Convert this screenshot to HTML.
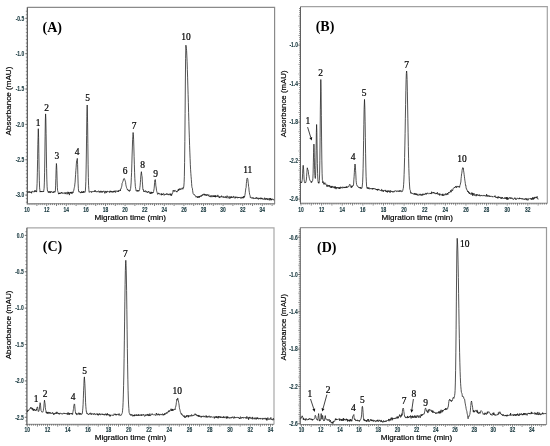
<!DOCTYPE html>
<html><head><meta charset="utf-8"><style>
html,body{margin:0;padding:0;background:#fff;}
svg{display:block;will-change:transform;}
.tk{font-family:"Liberation Sans",sans-serif;font-size:6.4px;font-weight:bold;fill:#1a3a40;stroke:#1a3a40;stroke-width:0.12px;}
.tt{font-family:"Liberation Sans",sans-serif;font-size:8.1px;fill:#000;stroke:#000;stroke-width:0.18px;}
.pl{font-family:"Liberation Serif",serif;font-size:14px;font-weight:bold;fill:#000;}
.pk{font-family:"Liberation Serif",serif;font-size:10.2px;fill:#000;stroke:#000;stroke-width:0.22px;}
</style></head>
<body><svg width="550" height="446" viewBox="0 0 550 446">
<rect width="550" height="446" fill="#fff"/>

<path d="M27.35 7.3 H274.6 V204.0" fill="none" stroke="#8a8a8a" stroke-width="1.2"/>
<path d="M27.35 7.3 V204.6" fill="none" stroke="#606060" stroke-width="1.3"/>
<path d="M27.35 203.7 H274.6" fill="none" stroke="#8a8a8a" stroke-width="1"/>
<path d="M25.85 11.23H27.35 M25.85 14.76H27.35 M25.85 18.30H27.35 M25.85 21.84H27.35 M25.85 25.37H27.35 M25.85 28.91H27.35 M25.85 32.44H27.35 M25.85 35.98H27.35 M25.85 39.52H27.35 M25.85 43.05H27.35 M25.85 46.59H27.35 M25.85 50.12H27.35 M25.85 53.66H27.35 M25.85 57.20H27.35 M25.85 60.73H27.35 M25.85 64.27H27.35 M25.85 67.80H27.35 M25.85 71.34H27.35 M25.85 74.88H27.35 M25.85 78.41H27.35 M25.85 81.95H27.35 M25.85 85.48H27.35 M25.85 89.02H27.35 M25.85 92.56H27.35 M25.85 96.09H27.35 M25.85 99.63H27.35 M25.85 103.16H27.35 M25.85 106.70H27.35 M25.85 110.24H27.35 M25.85 113.77H27.35 M25.85 117.31H27.35 M25.85 120.84H27.35 M25.85 124.38H27.35 M25.85 127.92H27.35 M25.85 131.45H27.35 M25.85 134.99H27.35 M25.85 138.52H27.35 M25.85 142.06H27.35 M25.85 145.60H27.35 M25.85 149.13H27.35 M25.85 152.67H27.35 M25.85 156.20H27.35 M25.85 159.74H27.35 M25.85 163.28H27.35 M25.85 166.81H27.35 M25.85 170.35H27.35 M25.85 173.88H27.35 M25.85 177.42H27.35 M25.85 180.96H27.35 M25.85 184.49H27.35 M25.85 188.03H27.35 M25.85 191.56H27.35 M25.85 195.10H27.35 M25.85 198.64H27.35 M25.85 202.17H27.35 M25.15 18.30H27.35 M25.15 53.66H27.35 M25.15 89.02H27.35 M25.15 124.38H27.35 M25.15 159.74H27.35 M25.15 195.10H27.35" stroke="#606060" stroke-width="0.7" fill="none"/>
<path d="M29.06 203.5V205.10 M31.02 203.5V205.10 M32.98 203.5V205.10 M34.94 203.5V205.10 M36.90 203.5V206.00 M38.86 203.5V205.10 M40.82 203.5V205.10 M42.78 203.5V205.10 M44.74 203.5V205.10 M46.70 203.5V206.00 M48.66 203.5V205.10 M50.62 203.5V205.10 M52.58 203.5V205.10 M54.54 203.5V205.10 M56.50 203.5V206.00 M58.46 203.5V205.10 M60.42 203.5V205.10 M62.38 203.5V205.10 M64.34 203.5V205.10 M66.30 203.5V206.00 M68.26 203.5V205.10 M70.22 203.5V205.10 M72.18 203.5V205.10 M74.14 203.5V205.10 M76.10 203.5V206.00 M78.06 203.5V205.10 M80.02 203.5V205.10 M81.98 203.5V205.10 M83.94 203.5V205.10 M85.90 203.5V206.00 M87.86 203.5V205.10 M89.82 203.5V205.10 M91.78 203.5V205.10 M93.74 203.5V205.10 M95.70 203.5V206.00 M97.66 203.5V205.10 M99.62 203.5V205.10 M101.58 203.5V205.10 M103.54 203.5V205.10 M105.50 203.5V206.00 M107.46 203.5V205.10 M109.42 203.5V205.10 M111.38 203.5V205.10 M113.34 203.5V205.10 M115.30 203.5V206.00 M117.26 203.5V205.10 M119.22 203.5V205.10 M121.18 203.5V205.10 M123.14 203.5V205.10 M125.10 203.5V206.00 M127.06 203.5V205.10 M129.02 203.5V205.10 M130.98 203.5V205.10 M132.94 203.5V205.10 M134.90 203.5V206.00 M136.86 203.5V205.10 M138.82 203.5V205.10 M140.78 203.5V205.10 M142.74 203.5V205.10 M144.70 203.5V206.00 M146.66 203.5V205.10 M148.62 203.5V205.10 M150.58 203.5V205.10 M152.54 203.5V205.10 M154.50 203.5V206.00 M156.46 203.5V205.10 M158.42 203.5V205.10 M160.38 203.5V205.10 M162.34 203.5V205.10 M164.30 203.5V206.00 M166.26 203.5V205.10 M168.22 203.5V205.10 M170.18 203.5V205.10 M172.14 203.5V205.10 M174.10 203.5V206.00 M176.06 203.5V205.10 M178.02 203.5V205.10 M179.98 203.5V205.10 M181.94 203.5V205.10 M183.90 203.5V206.00 M185.86 203.5V205.10 M187.82 203.5V205.10 M189.78 203.5V205.10 M191.74 203.5V205.10 M193.70 203.5V206.00 M195.66 203.5V205.10 M197.62 203.5V205.10 M199.58 203.5V205.10 M201.54 203.5V205.10 M203.50 203.5V206.00 M205.46 203.5V205.10 M207.42 203.5V205.10 M209.38 203.5V205.10 M211.34 203.5V205.10 M213.30 203.5V206.00 M215.26 203.5V205.10 M217.22 203.5V205.10 M219.18 203.5V205.10 M221.14 203.5V205.10 M223.10 203.5V206.00 M225.06 203.5V205.10 M227.02 203.5V205.10 M228.98 203.5V205.10 M230.94 203.5V205.10 M232.90 203.5V206.00 M234.86 203.5V205.10 M236.82 203.5V205.10 M238.78 203.5V205.10 M240.74 203.5V205.10 M242.70 203.5V206.00 M244.66 203.5V205.10 M246.62 203.5V205.10 M248.58 203.5V205.10 M250.54 203.5V205.10 M252.50 203.5V206.00 M254.46 203.5V205.10 M256.42 203.5V205.10 M258.38 203.5V205.10 M260.34 203.5V205.10 M262.30 203.5V206.00 M264.26 203.5V205.10 M266.22 203.5V205.10 M268.18 203.5V205.10 M270.14 203.5V205.10 M272.10 203.5V206.00 M274.06 203.5V205.10" stroke="#5a5a5a" stroke-width="0.75" fill="none"/>
<text class="tk" text-anchor="end" transform="translate(24.15 20.60) scale(0.77 1)">-0.5</text>
<text class="tk" text-anchor="end" transform="translate(24.15 55.96) scale(0.77 1)">-1.0</text>
<text class="tk" text-anchor="end" transform="translate(24.15 91.32) scale(0.77 1)">-1.5</text>
<text class="tk" text-anchor="end" transform="translate(24.15 126.68) scale(0.77 1)">-2.0</text>
<text class="tk" text-anchor="end" transform="translate(24.15 162.04) scale(0.77 1)">-2.5</text>
<text class="tk" text-anchor="end" transform="translate(24.15 197.40) scale(0.77 1)">-3.0</text>
<text class="tk" text-anchor="middle" transform="translate(27.10 212.00) scale(0.77 1)">10</text>
<text class="tk" text-anchor="middle" transform="translate(46.70 212.00) scale(0.77 1)">12</text>
<text class="tk" text-anchor="middle" transform="translate(66.30 212.00) scale(0.77 1)">14</text>
<text class="tk" text-anchor="middle" transform="translate(85.90 212.00) scale(0.77 1)">16</text>
<text class="tk" text-anchor="middle" transform="translate(105.50 212.00) scale(0.77 1)">18</text>
<text class="tk" text-anchor="middle" transform="translate(125.10 212.00) scale(0.77 1)">20</text>
<text class="tk" text-anchor="middle" transform="translate(144.70 212.00) scale(0.77 1)">22</text>
<text class="tk" text-anchor="middle" transform="translate(164.30 212.00) scale(0.77 1)">24</text>
<text class="tk" text-anchor="middle" transform="translate(183.90 212.00) scale(0.77 1)">26</text>
<text class="tk" text-anchor="middle" transform="translate(203.50 212.00) scale(0.77 1)">28</text>
<text class="tk" text-anchor="middle" transform="translate(223.10 212.00) scale(0.77 1)">30</text>
<text class="tk" text-anchor="middle" transform="translate(242.70 212.00) scale(0.77 1)">32</text>
<text class="tk" text-anchor="middle" transform="translate(262.30 212.00) scale(0.77 1)">34</text>
<text x="130.2" y="220.3" class="tt" text-anchor="middle">Migration time (min)</text>
<text x="0" y="0" class="tt" text-anchor="middle" transform="translate(11.1 101.0) rotate(-90)">Absorbance (mAU)</text>
<text x="42.6" y="32.4" class="pl">(A)</text>
<path d="M27.60 191.63 L27.85 192.48 L28.10 192.79 L28.35 191.94 L28.60 191.46 L28.85 192.13 L29.10 192.40 L29.35 192.72 L29.60 191.42 L29.85 191.35 L30.10 192.42 L30.35 192.27 L30.60 192.82 L30.85 192.49 L31.10 191.87 L31.35 191.75 L31.60 193.29 L31.85 191.69 L32.10 191.39 L32.35 191.16 L32.60 191.82 L32.85 191.82 L33.10 191.52 L33.35 191.65 L33.60 191.81 L33.85 192.01 L34.10 192.21 L34.35 191.69 L34.60 190.57 L34.85 191.91 L35.10 190.72 L35.35 191.38 L35.60 190.63 L35.85 191.40 L36.10 190.90 L36.35 191.20 L36.60 192.08 L36.85 187.99 L37.10 183.38 L37.35 172.77 L37.60 159.49 L37.85 144.44 L38.30 128.70 L38.60 137.32 L38.85 153.57 L39.10 169.69 L39.35 180.71 L39.60 187.87 L39.85 189.77 L40.10 192.13 L40.35 191.06 L40.60 191.77 L40.85 191.40 L41.10 191.92 L41.35 191.07 L41.60 191.95 L41.85 191.33 L42.10 192.09 L42.35 191.74 L42.60 191.48 L42.85 190.97 L43.10 191.81 L43.35 191.59 L43.60 192.00 L43.85 190.09 L44.10 188.30 L44.35 182.84 L44.60 172.24 L44.85 156.04 L45.10 136.73 L45.35 120.01 L45.60 113.90 L45.85 118.89 L46.10 133.58 L46.35 151.97 L46.60 168.60 L46.85 179.87 L47.10 186.72 L47.35 189.93 L47.60 191.28 L47.85 191.50 L48.10 191.98 L48.35 192.58 L48.60 191.45 L48.85 191.26 L49.10 192.73 L49.35 191.80 L49.60 192.21 L49.85 192.17 L50.10 191.08 L50.35 193.06 L50.60 192.71 L50.85 191.84 L51.10 192.17 L51.35 191.84 L51.60 191.29 L51.85 191.73 L52.10 192.02 L52.35 192.47 L52.60 192.28 L52.85 191.96 L53.10 192.71 L53.35 191.58 L53.60 192.48 L53.85 192.69 L54.10 191.95 L54.35 191.17 L54.60 191.68 L54.85 192.28 L55.10 192.11 L55.35 191.25 L55.60 185.82 L55.85 178.66 L56.10 169.58 L56.40 163.50 L56.60 165.30 L56.85 170.50 L57.10 180.12 L57.35 187.36 L57.60 190.51 L57.85 191.28 L58.10 192.24 L58.35 192.82 L58.60 194.15 L58.85 193.17 L59.10 192.93 L59.35 193.76 L59.60 192.90 L59.85 194.00 L60.10 192.63 L60.35 192.75 L60.60 193.41 L60.85 193.80 L61.10 193.38 L61.35 193.19 L61.60 192.03 L61.85 192.64 L62.10 192.71 L62.35 192.75 L62.60 193.37 L62.85 192.87 L63.10 193.50 L63.35 193.11 L63.60 192.89 L63.85 193.14 L64.10 193.32 L64.35 193.56 L64.60 192.83 L64.85 192.97 L65.10 192.35 L65.35 193.99 L65.60 193.91 L65.85 193.02 L66.10 192.86 L66.35 192.45 L66.60 193.23 L66.85 193.25 L67.10 194.34 L67.35 193.28 L67.60 192.72 L67.85 191.81 L68.10 193.94 L68.35 193.27 L68.60 192.29 L68.85 193.28 L69.10 192.30 L69.35 195.10 L69.60 193.81 L69.85 193.51 L70.10 193.09 L70.35 191.99 L70.60 193.07 L70.85 192.26 L71.10 193.41 L71.35 191.88 L71.60 192.52 L71.85 193.64 L72.10 193.81 L72.35 192.17 L72.60 191.84 L72.85 192.98 L73.10 192.68 L73.35 191.26 L73.60 190.83 L73.85 190.01 L74.10 188.63 L74.35 187.46 L74.60 186.67 L74.85 184.10 L75.10 182.18 L75.35 177.96 L75.60 174.61 L75.85 170.69 L76.10 167.75 L76.35 163.93 L76.60 160.98 L76.85 160.31 L77.10 159.51 L77.30 158.40 L77.60 164.46 L77.85 174.59 L78.10 183.13 L78.35 188.31 L78.60 191.34 L78.85 191.95 L79.10 191.76 L79.35 191.47 L79.60 191.58 L79.85 192.37 L80.10 192.45 L80.35 192.09 L80.60 193.12 L80.85 192.42 L81.10 192.63 L81.35 192.96 L81.60 191.82 L81.85 191.18 L82.10 192.66 L82.35 191.85 L82.60 192.94 L82.85 192.39 L83.10 192.74 L83.35 192.59 L83.60 191.02 L83.85 192.54 L84.10 191.76 L84.35 191.69 L84.60 191.83 L84.85 192.38 L85.10 192.09 L85.35 191.10 L85.60 186.93 L85.85 181.65 L86.10 169.94 L86.35 154.97 L86.60 135.53 L86.85 116.33 L87.20 105.00 L87.60 122.44 L87.85 143.69 L88.10 164.22 L88.35 177.58 L88.60 185.70 L88.85 189.45 L89.10 192.23 L89.35 192.29 L89.60 191.72 L89.85 191.92 L90.10 191.85 L90.35 191.88 L90.60 191.64 L90.85 191.56 L91.10 191.03 L91.35 191.36 L91.60 192.60 L91.85 191.98 L92.10 191.70 L92.35 191.54 L92.60 191.67 L92.85 191.82 L93.10 191.25 L93.35 191.70 L93.60 191.71 L93.85 191.15 L94.10 191.12 L94.35 190.99 L94.60 190.94 L94.85 192.00 L95.10 190.21 L95.35 191.37 L95.60 191.19 L95.85 191.19 L96.10 191.60 L96.35 192.17 L96.60 191.61 L96.85 191.50 L97.10 191.25 L97.35 191.52 L97.60 192.11 L97.85 191.40 L98.10 190.99 L98.35 190.94 L98.60 191.04 L98.85 190.89 L99.10 192.27 L99.35 191.87 L99.60 191.55 L99.85 192.50 L100.10 191.34 L100.35 192.13 L100.60 192.16 L100.85 190.88 L101.10 190.89 L101.35 191.24 L101.60 192.26 L101.85 192.49 L102.10 191.11 L102.35 192.37 L102.60 191.59 L102.85 191.60 L103.10 191.52 L103.35 191.66 L103.60 190.84 L103.85 191.30 L104.10 191.18 L104.35 192.14 L104.60 193.03 L104.85 193.40 L105.10 191.71 L105.35 190.94 L105.60 191.65 L105.85 191.35 L106.10 192.95 L106.35 192.16 L106.60 191.44 L106.85 192.34 L107.10 192.11 L107.35 190.91 L107.60 191.50 L107.85 191.65 L108.10 191.79 L108.35 191.84 L108.60 191.57 L108.85 191.85 L109.10 191.41 L109.35 191.23 L109.60 192.55 L109.85 191.90 L110.10 191.94 L110.35 190.81 L110.60 191.58 L110.85 192.12 L111.10 190.95 L111.35 192.25 L111.60 191.42 L111.85 191.85 L112.10 191.54 L112.35 191.73 L112.60 192.26 L112.85 191.36 L113.10 192.44 L113.35 191.14 L113.60 191.04 L113.85 191.94 L114.10 190.95 L114.35 191.32 L114.60 192.01 L114.85 192.17 L115.10 190.52 L115.35 191.76 L115.60 192.50 L115.85 192.11 L116.10 191.31 L116.35 191.10 L116.60 191.25 L116.85 190.76 L117.10 191.23 L117.35 191.26 L117.60 191.26 L117.85 191.97 L118.10 191.16 L118.35 190.44 L118.60 191.77 L118.85 190.52 L119.10 190.77 L119.35 190.81 L119.60 190.51 L119.85 189.92 L120.10 190.03 L120.35 190.99 L120.60 188.98 L120.85 188.66 L121.10 188.67 L121.35 187.67 L121.60 186.80 L121.85 185.88 L122.10 183.29 L122.35 182.83 L122.60 182.32 L122.85 181.52 L123.10 181.05 L123.35 179.84 L123.60 178.87 L123.85 178.66 L124.10 178.50 L124.35 178.52 L124.60 179.21 L124.85 180.13 L125.10 180.48 L125.35 181.28 L125.60 182.40 L125.85 184.64 L126.10 185.88 L126.35 186.78 L126.60 187.66 L126.85 188.46 L127.10 188.69 L127.35 189.61 L127.60 189.10 L127.85 189.89 L128.10 189.85 L128.35 190.85 L128.60 190.26 L128.85 190.62 L129.10 190.95 L129.35 191.49 L129.60 190.27 L129.85 190.04 L130.10 190.67 L130.35 188.95 L130.60 188.58 L130.85 185.95 L131.10 182.95 L131.35 177.28 L131.60 172.35 L131.85 163.90 L132.10 154.99 L132.35 147.96 L132.60 139.75 L132.85 136.22 L133.10 132.50 L133.35 134.53 L133.60 139.20 L133.85 146.93 L134.10 156.45 L134.35 164.26 L134.60 172.32 L134.85 178.71 L135.10 182.67 L135.35 186.52 L135.60 188.27 L135.85 189.10 L136.10 190.96 L136.35 191.21 L136.60 191.07 L136.85 190.61 L137.10 190.05 L137.35 191.44 L137.60 191.14 L137.85 190.28 L138.10 191.18 L138.35 190.38 L138.60 191.18 L138.85 191.20 L139.10 191.14 L139.35 190.65 L139.60 189.81 L139.85 187.65 L140.10 185.84 L140.35 182.72 L140.60 179.27 L140.85 175.96 L141.10 173.36 L141.40 171.70 L141.85 175.49 L142.10 176.57 L142.35 181.90 L142.60 184.91 L142.85 188.86 L143.10 189.88 L143.35 189.52 L143.60 191.22 L143.85 190.99 L144.10 191.94 L144.35 190.87 L144.60 191.42 L144.85 191.42 L145.10 191.47 L145.35 191.26 L145.60 190.62 L145.85 191.94 L146.10 192.29 L146.35 191.76 L146.60 191.29 L146.85 192.02 L147.10 192.27 L147.35 191.92 L147.60 192.06 L147.85 192.90 L148.10 191.57 L148.35 191.93 L148.60 191.24 L148.85 191.96 L149.10 192.00 L149.35 191.93 L149.60 192.13 L149.85 193.56 L150.10 192.51 L150.35 192.59 L150.60 193.89 L150.85 192.69 L151.10 191.80 L151.35 193.01 L151.60 192.31 L151.85 193.76 L152.10 192.21 L152.35 192.60 L152.60 192.06 L152.85 192.97 L153.10 192.24 L153.35 192.43 L153.60 191.52 L153.85 190.02 L154.10 188.75 L154.35 186.00 L154.60 182.65 L154.85 179.92 L155.10 179.60 L155.35 179.70 L155.60 182.25 L155.85 185.90 L156.10 186.92 L156.35 189.01 L156.60 190.78 L156.85 191.70 L157.10 192.46 L157.35 193.25 L157.60 194.35 L157.85 193.66 L158.10 193.44 L158.35 192.88 L158.60 193.92 L158.85 193.82 L159.10 193.20 L159.35 193.31 L159.60 193.92 L159.85 194.54 L160.10 194.35 L160.35 194.12 L160.60 193.84 L160.85 194.21 L161.10 194.03 L161.35 195.24 L161.60 193.43 L161.85 193.86 L162.10 194.77 L162.35 193.93 L162.60 194.87 L162.85 194.07 L163.10 194.19 L163.35 193.91 L163.60 193.36 L163.85 193.60 L164.10 195.36 L164.35 194.50 L164.60 194.49 L164.85 194.69 L165.10 194.49 L165.35 194.74 L165.60 194.04 L165.85 194.08 L166.10 194.75 L166.35 194.02 L166.60 193.49 L166.85 194.11 L167.10 193.94 L167.35 194.59 L167.60 193.86 L167.85 193.68 L168.10 194.09 L168.35 195.14 L168.60 194.27 L168.85 194.39 L169.10 194.31 L169.35 194.48 L169.60 194.84 L169.85 195.10 L170.10 193.44 L170.35 195.10 L170.60 194.36 L170.85 194.19 L171.10 195.70 L171.35 194.29 L171.60 195.46 L171.85 194.83 L172.10 193.22 L172.35 193.54 L172.60 193.16 L172.85 192.17 L173.10 190.44 L173.35 191.02 L173.60 190.77 L173.85 190.22 L174.10 191.78 L174.35 190.60 L174.60 190.46 L174.85 190.47 L175.10 190.24 L175.35 190.42 L175.60 191.07 L175.85 191.37 L176.10 191.09 L176.35 191.50 L176.60 190.96 L176.85 192.18 L177.10 191.43 L177.35 191.56 L177.60 190.54 L177.85 190.36 L178.10 190.36 L178.35 189.17 L178.60 190.80 L178.85 189.02 L179.10 188.80 L179.35 188.54 L179.60 189.92 L179.85 189.90 L180.10 189.40 L180.35 188.59 L180.60 189.16 L180.85 189.88 L181.10 189.22 L181.35 188.60 L181.60 188.35 L181.85 188.33 L182.10 188.51 L182.35 187.89 L182.60 188.01 L182.85 189.27 L183.10 188.57 L183.35 187.00 L183.60 187.41 L183.85 186.06 L184.10 182.75 L184.35 176.39 L184.60 162.49 L184.85 141.55 L185.10 113.48 L185.35 83.01 L185.60 58.34 L185.90 45.20 L186.35 48.31 L186.60 50.65 L186.85 55.97 L187.10 61.77 L187.35 69.67 L187.60 77.17 L187.85 85.96 L188.10 94.27 L188.35 102.29 L188.60 112.61 L188.85 121.35 L189.10 130.06 L189.35 137.21 L189.60 145.58 L189.85 152.15 L190.10 158.49 L190.35 164.73 L190.60 169.75 L190.85 173.44 L191.10 176.77 L191.35 179.58 L191.60 183.35 L191.85 186.57 L192.10 187.83 L192.35 188.20 L192.60 190.26 L192.85 192.03 L193.10 193.57 L193.35 193.96 L193.60 194.06 L193.85 194.42 L194.10 194.10 L194.35 194.75 L194.60 195.10 L194.85 195.10 L195.10 195.78 L195.35 195.73 L195.60 196.32 L195.85 197.11 L196.10 196.90 L196.35 196.90 L196.60 196.70 L196.85 196.16 L197.10 197.10 L197.35 197.58 L197.60 196.64 L197.85 197.81 L198.10 196.85 L198.35 197.15 L198.60 196.69 L198.85 196.09 L199.10 197.84 L199.35 195.98 L199.60 197.04 L199.85 196.14 L200.10 196.50 L200.35 195.76 L200.60 195.83 L200.85 196.42 L201.10 196.84 L201.35 195.16 L201.60 195.49 L201.85 195.86 L202.10 194.85 L202.35 195.45 L202.60 194.48 L202.85 195.10 L203.10 194.87 L203.35 195.15 L203.60 194.62 L203.85 193.80 L204.10 194.86 L204.35 193.93 L204.60 194.99 L204.85 195.45 L205.10 194.98 L205.35 194.39 L205.60 195.39 L205.85 194.87 L206.10 194.15 L206.35 194.73 L206.60 195.79 L206.85 194.93 L207.10 195.25 L207.35 195.08 L207.60 194.43 L207.85 195.17 L208.10 195.73 L208.35 195.74 L208.60 195.61 L208.85 194.62 L209.10 196.56 L209.35 196.37 L209.60 196.62 L209.85 196.86 L210.10 195.96 L210.35 195.88 L210.60 196.40 L210.85 197.16 L211.10 195.32 L211.35 196.14 L211.60 195.88 L211.85 196.59 L212.10 197.10 L212.35 196.15 L212.60 195.64 L212.85 196.36 L213.10 196.19 L213.35 195.51 L213.60 196.85 L213.85 196.09 L214.10 196.77 L214.35 195.68 L214.60 197.02 L214.85 195.63 L215.10 197.02 L215.35 195.45 L215.60 197.22 L215.85 196.27 L216.10 195.63 L216.35 196.37 L216.60 196.69 L216.85 195.97 L217.10 196.26 L217.35 196.69 L217.60 196.46 L217.85 194.88 L218.10 196.34 L218.35 196.82 L218.60 196.76 L218.85 197.17 L219.10 196.24 L219.35 198.04 L219.60 197.09 L219.85 196.83 L220.10 197.27 L220.35 197.21 L220.60 196.75 L220.85 196.37 L221.10 197.28 L221.35 196.96 L221.60 195.70 L221.85 196.15 L222.10 197.02 L222.35 196.84 L222.60 196.94 L222.85 197.15 L223.10 196.89 L223.35 197.69 L223.60 196.51 L223.85 196.63 L224.10 197.04 L224.35 197.28 L224.60 197.31 L224.85 197.71 L225.10 196.64 L225.35 197.56 L225.60 197.19 L225.85 196.37 L226.10 196.88 L226.35 198.11 L226.60 197.41 L226.85 196.73 L227.10 195.68 L227.35 196.61 L227.60 196.63 L227.85 197.08 L228.10 198.32 L228.35 197.47 L228.60 197.24 L228.85 196.57 L229.10 196.44 L229.35 196.99 L229.60 196.86 L229.85 198.78 L230.10 196.92 L230.35 196.81 L230.60 197.78 L230.85 197.22 L231.10 196.51 L231.35 197.91 L231.60 197.04 L231.85 196.49 L232.10 197.41 L232.35 197.51 L232.60 197.07 L232.85 197.65 L233.10 197.73 L233.35 196.80 L233.60 196.17 L233.85 196.00 L234.10 197.25 L234.35 198.01 L234.60 197.90 L234.85 198.13 L235.10 198.39 L235.35 197.39 L235.60 197.98 L235.85 196.57 L236.10 197.80 L236.35 197.65 L236.60 197.39 L236.85 197.21 L237.10 196.85 L237.35 197.55 L237.60 198.19 L237.85 197.30 L238.10 197.80 L238.35 197.16 L238.60 197.67 L238.85 196.99 L239.10 197.77 L239.35 197.45 L239.60 197.75 L239.85 197.26 L240.10 196.96 L240.35 197.44 L240.60 198.20 L240.85 198.51 L241.10 197.47 L241.35 198.10 L241.60 198.09 L241.85 197.90 L242.10 196.84 L242.35 197.88 L242.60 197.18 L242.85 198.36 L243.10 198.14 L243.35 198.01 L243.60 196.20 L243.85 197.81 L244.10 197.61 L244.35 196.14 L244.60 196.78 L244.85 195.41 L245.10 194.06 L245.35 192.19 L245.60 190.07 L245.85 188.12 L246.10 187.61 L246.35 183.58 L246.60 181.37 L246.85 179.16 L247.10 178.12 L247.30 178.20 L247.60 178.43 L247.85 179.43 L248.10 182.12 L248.35 183.60 L248.60 186.51 L248.85 187.68 L249.10 190.97 L249.35 192.33 L249.60 194.29 L249.85 195.12 L250.10 195.65 L250.35 197.49 L250.60 197.07 L250.85 197.56 L251.10 197.36 L251.35 198.09 L251.60 197.85 L251.85 198.27 L252.10 198.34 L252.35 197.79 L252.60 197.41 L252.85 198.44 L253.10 198.72 L253.35 198.61 L253.60 197.61 L253.85 198.58 L254.10 198.47 L254.35 198.43 L254.60 198.52 L254.85 198.12 L255.10 198.43 L255.35 198.83 L255.60 198.06 L255.85 197.55 L256.10 198.30 L256.35 198.48 L256.60 197.37 L256.85 198.02 L257.10 198.73 L257.35 198.33 L257.60 198.48 L257.85 197.75 L258.10 198.95 L258.35 199.43 L258.60 198.37 L258.85 198.08 L259.10 197.86 L259.35 199.00 L259.60 198.58 L259.85 198.10 L260.10 199.21 L260.35 198.98 L260.60 198.90 L260.85 197.61 L261.10 198.54 L261.35 198.95 L261.60 197.94 L261.85 199.14 L262.10 199.43 L262.35 199.22 L262.60 198.27 L262.85 198.29 L263.10 199.21 L263.35 199.25 L263.60 199.39 L263.85 199.38 L264.10 198.68 L264.35 198.52 L264.60 197.74 L264.85 199.20 L265.10 200.03 L265.35 198.54 L265.60 198.54 L265.85 199.17 L266.10 199.03 L266.35 198.09 L266.60 198.46 L266.85 198.26 L267.10 199.99 L267.35 198.49 L267.60 199.37 L267.85 199.97 L268.10 199.96 L268.35 199.72 L268.60 199.84 L268.85 198.28 L269.10 198.78 L269.35 198.58 L269.60 198.83 L269.85 200.45 L270.10 198.09 L270.35 199.34 L270.60 198.36 L270.85 199.79 L271.10 199.78 L271.35 198.79 L271.60 200.23 L271.85 199.14 L272.10 199.83 L272.35 199.29 L272.60 198.83 L272.85 198.94 L273.10 199.09 L273.35 199.51 L273.60 199.25 L273.85 200.49" fill="none" stroke="#1a1a1a" stroke-width="0.75" stroke-linejoin="round"/>
<text class="pk" text-anchor="middle" transform="translate(38 125.5) scale(0.93 1)">1</text>
<text class="pk" text-anchor="middle" transform="translate(46.5 110.5) scale(0.93 1)">2</text>
<text class="pk" text-anchor="middle" transform="translate(56.8 159.4) scale(0.93 1)">3</text>
<text class="pk" text-anchor="middle" transform="translate(77 155.3) scale(0.93 1)">4</text>
<text class="pk" text-anchor="middle" transform="translate(87.7 100.6) scale(0.93 1)">5</text>
<text class="pk" text-anchor="middle" transform="translate(125 174.3) scale(0.93 1)">6</text>
<text class="pk" text-anchor="middle" transform="translate(134.1 128.6) scale(0.93 1)">7</text>
<text class="pk" text-anchor="middle" transform="translate(142.5 167.6) scale(0.93 1)">8</text>
<text class="pk" text-anchor="middle" transform="translate(155.5 176.8) scale(0.93 1)">9</text>
<text class="pk" text-anchor="middle" transform="translate(185.9 39.6) scale(0.93 1)">10</text>
<text class="pk" text-anchor="middle" transform="translate(247.8 172.8) scale(0.93 1)">11</text>
<path d="M300.5 6.7 H547.3 V203.5" fill="none" stroke="#a2a2a2" stroke-width="1.2"/>
<path d="M300.5 6.7 V204.1" fill="none" stroke="#606060" stroke-width="1.0"/>
<path d="M300.5 203.2 H547.3" fill="none" stroke="#8a8a8a" stroke-width="1"/>
<path d="M299.00 8.52H300.5 M299.00 10.45H300.5 M299.00 12.38H300.5 M299.00 14.30H300.5 M298.50 16.22H300.5 M299.00 18.15H300.5 M299.00 20.07H300.5 M299.00 22.00H300.5 M299.00 23.93H300.5 M298.50 25.85H300.5 M299.00 27.78H300.5 M299.00 29.70H300.5 M299.00 31.62H300.5 M299.00 33.55H300.5 M298.50 35.48H300.5 M299.00 37.40H300.5 M299.00 39.32H300.5 M299.00 41.25H300.5 M299.00 43.17H300.5 M298.50 45.10H300.5 M299.00 47.03H300.5 M299.00 48.95H300.5 M299.00 50.88H300.5 M299.00 52.80H300.5 M298.50 54.73H300.5 M299.00 56.65H300.5 M299.00 58.58H300.5 M299.00 60.50H300.5 M299.00 62.43H300.5 M298.50 64.35H300.5 M299.00 66.28H300.5 M299.00 68.20H300.5 M299.00 70.12H300.5 M299.00 72.05H300.5 M298.50 73.98H300.5 M299.00 75.90H300.5 M299.00 77.82H300.5 M299.00 79.75H300.5 M299.00 81.67H300.5 M298.50 83.60H300.5 M299.00 85.52H300.5 M299.00 87.45H300.5 M299.00 89.38H300.5 M299.00 91.30H300.5 M298.50 93.22H300.5 M299.00 95.15H300.5 M299.00 97.08H300.5 M299.00 99.00H300.5 M299.00 100.93H300.5 M298.50 102.85H300.5 M299.00 104.78H300.5 M299.00 106.70H300.5 M299.00 108.63H300.5 M299.00 110.55H300.5 M298.50 112.48H300.5 M299.00 114.40H300.5 M299.00 116.33H300.5 M299.00 118.25H300.5 M299.00 120.17H300.5 M298.50 122.10H300.5 M299.00 124.02H300.5 M299.00 125.95H300.5 M299.00 127.88H300.5 M299.00 129.80H300.5 M298.50 131.72H300.5 M299.00 133.65H300.5 M299.00 135.57H300.5 M299.00 137.50H300.5 M299.00 139.43H300.5 M298.50 141.35H300.5 M299.00 143.28H300.5 M299.00 145.20H300.5 M299.00 147.12H300.5 M299.00 149.05H300.5 M298.50 150.98H300.5 M299.00 152.90H300.5 M299.00 154.83H300.5 M299.00 156.75H300.5 M299.00 158.68H300.5 M298.50 160.60H300.5 M299.00 162.53H300.5 M299.00 164.45H300.5 M299.00 166.38H300.5 M299.00 168.30H300.5 M298.50 170.22H300.5 M299.00 172.15H300.5 M299.00 174.07H300.5 M299.00 176.00H300.5 M299.00 177.92H300.5 M298.50 179.85H300.5 M299.00 181.77H300.5 M299.00 183.70H300.5 M299.00 185.62H300.5 M299.00 187.55H300.5 M298.50 189.47H300.5 M299.00 191.40H300.5 M299.00 193.32H300.5 M299.00 195.25H300.5 M299.00 197.18H300.5 M298.50 199.10H300.5 M299.00 201.03H300.5 M298.30 45.10H300.5 M298.30 83.60H300.5 M298.30 122.10H300.5 M298.30 160.60H300.5 M298.30 199.10H300.5" stroke="#606060" stroke-width="0.7" fill="none"/>
<path d="M301.00 203.0V205.50 M303.06 203.0V204.60 M305.12 203.0V204.60 M307.19 203.0V204.60 M309.25 203.0V204.60 M311.31 203.0V205.50 M313.37 203.0V204.60 M315.43 203.0V204.60 M317.50 203.0V204.60 M319.56 203.0V204.60 M321.62 203.0V205.50 M323.68 203.0V204.60 M325.74 203.0V204.60 M327.81 203.0V204.60 M329.87 203.0V204.60 M331.93 203.0V205.50 M333.99 203.0V204.60 M336.05 203.0V204.60 M338.12 203.0V204.60 M340.18 203.0V204.60 M342.24 203.0V205.50 M344.30 203.0V204.60 M346.36 203.0V204.60 M348.43 203.0V204.60 M350.49 203.0V204.60 M352.55 203.0V205.50 M354.61 203.0V204.60 M356.67 203.0V204.60 M358.74 203.0V204.60 M360.80 203.0V204.60 M362.86 203.0V205.50 M364.92 203.0V204.60 M366.98 203.0V204.60 M369.05 203.0V204.60 M371.11 203.0V204.60 M373.17 203.0V205.50 M375.23 203.0V204.60 M377.29 203.0V204.60 M379.36 203.0V204.60 M381.42 203.0V204.60 M383.48 203.0V205.50 M385.54 203.0V204.60 M387.60 203.0V204.60 M389.67 203.0V204.60 M391.73 203.0V204.60 M393.79 203.0V205.50 M395.85 203.0V204.60 M397.91 203.0V204.60 M399.98 203.0V204.60 M402.04 203.0V204.60 M404.10 203.0V205.50 M406.16 203.0V204.60 M408.22 203.0V204.60 M410.29 203.0V204.60 M412.35 203.0V204.60 M414.41 203.0V205.50 M416.47 203.0V204.60 M418.53 203.0V204.60 M420.60 203.0V204.60 M422.66 203.0V204.60 M424.72 203.0V205.50 M426.78 203.0V204.60 M428.84 203.0V204.60 M430.91 203.0V204.60 M432.97 203.0V204.60 M435.03 203.0V205.50 M437.09 203.0V204.60 M439.15 203.0V204.60 M441.22 203.0V204.60 M443.28 203.0V204.60 M445.34 203.0V205.50 M447.40 203.0V204.60 M449.46 203.0V204.60 M451.53 203.0V204.60 M453.59 203.0V204.60 M455.65 203.0V205.50 M457.71 203.0V204.60 M459.77 203.0V204.60 M461.84 203.0V204.60 M463.90 203.0V204.60 M465.96 203.0V205.50 M468.02 203.0V204.60 M470.08 203.0V204.60 M472.15 203.0V204.60 M474.21 203.0V204.60 M476.27 203.0V205.50 M478.33 203.0V204.60 M480.39 203.0V204.60 M482.46 203.0V204.60 M484.52 203.0V204.60 M486.58 203.0V205.50 M488.64 203.0V204.60 M490.70 203.0V204.60 M492.77 203.0V204.60 M494.83 203.0V204.60 M496.89 203.0V205.50 M498.95 203.0V204.60 M501.01 203.0V204.60 M503.08 203.0V204.60 M505.14 203.0V204.60 M507.20 203.0V205.50 M509.26 203.0V204.60 M511.32 203.0V204.60 M513.39 203.0V204.60 M515.45 203.0V204.60 M517.51 203.0V205.50 M519.57 203.0V204.60 M521.63 203.0V204.60 M523.70 203.0V204.60 M525.76 203.0V204.60 M527.82 203.0V205.50 M529.88 203.0V204.60 M531.94 203.0V204.60 M534.01 203.0V204.60 M536.07 203.0V204.60 M538.13 203.0V205.50 M540.19 203.0V204.60 M542.25 203.0V204.60 M544.32 203.0V204.60 M546.38 203.0V204.60" stroke="#5a5a5a" stroke-width="0.75" fill="none"/>
<text class="tk" text-anchor="end" transform="translate(297.90 47.40) scale(0.77 1)">-1.0</text>
<text class="tk" text-anchor="end" transform="translate(297.90 85.90) scale(0.77 1)">-1.4</text>
<text class="tk" text-anchor="end" transform="translate(297.90 124.40) scale(0.77 1)">-1.8</text>
<text class="tk" text-anchor="end" transform="translate(297.90 162.90) scale(0.77 1)">-2.2</text>
<text class="tk" text-anchor="end" transform="translate(297.90 201.40) scale(0.77 1)">-2.6</text>
<text class="tk" text-anchor="middle" transform="translate(301.00 211.80) scale(0.77 1)">10</text>
<text class="tk" text-anchor="middle" transform="translate(321.62 211.80) scale(0.77 1)">12</text>
<text class="tk" text-anchor="middle" transform="translate(342.24 211.80) scale(0.77 1)">14</text>
<text class="tk" text-anchor="middle" transform="translate(362.86 211.80) scale(0.77 1)">16</text>
<text class="tk" text-anchor="middle" transform="translate(383.48 211.80) scale(0.77 1)">18</text>
<text class="tk" text-anchor="middle" transform="translate(404.10 211.80) scale(0.77 1)">20</text>
<text class="tk" text-anchor="middle" transform="translate(424.72 211.80) scale(0.77 1)">22</text>
<text class="tk" text-anchor="middle" transform="translate(445.34 211.80) scale(0.77 1)">24</text>
<text class="tk" text-anchor="middle" transform="translate(465.96 211.80) scale(0.77 1)">26</text>
<text class="tk" text-anchor="middle" transform="translate(486.58 211.80) scale(0.77 1)">28</text>
<text class="tk" text-anchor="middle" transform="translate(507.20 211.80) scale(0.77 1)">30</text>
<text class="tk" text-anchor="middle" transform="translate(527.82 211.80) scale(0.77 1)">32</text>
<text x="417.3" y="220.4" class="tt" text-anchor="middle">Migration time (min)</text>
<text x="0" y="0" class="tt" style="font-size:7.85px" text-anchor="middle" transform="translate(286.1 103.8) rotate(-90)">Absorbance (mAU)</text>
<text x="315.7" y="31.2" class="pl">(B)</text>
<path d="M300.60 181.81 L300.85 182.69 L301.10 182.38 L301.35 182.22 L301.60 182.89 L301.85 182.02 L302.10 180.74 L302.35 179.36 L302.60 173.81 L302.85 168.34 L303.20 165.30 L303.60 169.13 L303.85 174.59 L304.10 179.13 L304.35 181.35 L304.60 182.34 L304.85 182.97 L305.10 182.93 L305.35 182.36 L305.60 182.70 L305.85 182.17 L306.10 180.91 L306.35 180.14 L306.60 176.73 L306.85 172.44 L307.30 167.80 L307.60 169.31 L307.85 169.47 L308.10 170.01 L308.35 171.74 L308.60 174.71 L308.85 174.92 L309.10 176.99 L309.35 178.28 L309.60 179.35 L309.85 180.28 L310.10 180.37 L310.35 180.87 L310.60 181.38 L310.85 181.49 L311.10 182.28 L311.35 182.78 L311.60 181.48 L311.85 182.13 L312.10 181.12 L312.35 181.03 L312.60 180.66 L312.85 178.86 L313.10 173.29 L313.35 162.17 L313.60 152.35 L313.90 144.10 L314.10 147.26 L314.35 157.77 L314.60 169.54 L314.85 175.56 L315.10 177.61 L315.35 178.46 L315.60 175.26 L315.85 165.57 L316.10 150.43 L316.35 132.54 L316.60 124.50 L316.85 130.75 L317.10 148.13 L317.35 163.41 L317.60 173.52 L317.85 179.80 L318.10 181.70 L318.35 182.92 L318.60 181.94 L318.85 183.37 L319.10 182.88 L319.35 180.50 L319.60 174.05 L319.85 160.69 L320.10 137.54 L320.35 109.13 L320.80 79.50 L321.10 91.22 L321.35 115.68 L321.60 141.08 L321.85 160.88 L322.10 173.29 L322.35 179.82 L322.60 180.53 L322.85 182.94 L323.10 181.58 L323.35 183.18 L323.60 183.77 L323.85 184.37 L324.10 183.17 L324.35 183.80 L324.60 183.65 L324.85 182.58 L325.10 184.35 L325.35 184.06 L325.60 184.24 L325.85 183.80 L326.10 184.43 L326.35 184.62 L326.60 185.42 L326.85 185.00 L327.10 186.91 L327.35 184.86 L327.60 185.07 L327.85 185.31 L328.10 185.02 L328.35 186.44 L328.60 186.08 L328.85 185.14 L329.10 186.01 L329.35 186.67 L329.60 185.30 L329.85 186.25 L330.10 186.10 L330.35 187.61 L330.60 186.61 L330.85 186.22 L331.10 186.21 L331.35 187.64 L331.60 186.40 L331.85 188.00 L332.10 185.93 L332.35 186.76 L332.60 186.81 L332.85 186.62 L333.10 186.96 L333.35 187.54 L333.60 186.85 L333.85 186.49 L334.10 188.11 L334.35 188.25 L334.60 187.12 L334.85 187.75 L335.10 186.21 L335.35 188.30 L335.60 187.05 L335.85 187.55 L336.10 189.13 L336.35 187.29 L336.60 188.08 L336.85 187.52 L337.10 187.07 L337.35 187.42 L337.60 188.20 L337.85 187.29 L338.10 187.67 L338.35 188.38 L338.60 187.86 L338.85 187.19 L339.10 188.73 L339.35 187.94 L339.60 188.63 L339.85 187.24 L340.10 188.74 L340.35 187.03 L340.60 186.78 L340.85 187.49 L341.10 187.50 L341.35 187.82 L341.60 187.34 L341.85 187.98 L342.10 188.35 L342.35 187.22 L342.60 186.79 L342.85 187.31 L343.10 187.96 L343.35 187.94 L343.60 187.26 L343.85 186.88 L344.10 187.40 L344.35 187.92 L344.60 186.96 L344.85 188.06 L345.10 187.44 L345.35 187.45 L345.60 186.91 L345.85 188.00 L346.10 187.24 L346.35 186.36 L346.60 187.62 L346.85 186.90 L347.10 187.71 L347.35 187.18 L347.60 186.71 L347.85 187.13 L348.10 186.73 L348.35 186.46 L348.60 186.74 L348.85 186.78 L349.10 185.67 L349.35 184.78 L349.70 184.20 L350.10 184.60 L350.35 185.98 L350.60 186.40 L350.85 187.09 L351.10 186.87 L351.35 187.87 L351.60 185.79 L351.85 186.61 L352.10 186.91 L352.35 187.07 L352.60 185.65 L352.85 185.66 L353.10 185.93 L353.35 185.70 L353.60 184.07 L353.85 179.83 L354.10 176.74 L354.35 172.55 L354.60 167.43 L355.00 164.00 L355.35 166.06 L355.60 170.48 L355.85 174.92 L356.10 180.52 L356.35 182.72 L356.60 184.46 L356.85 185.16 L357.10 186.04 L357.35 185.89 L357.60 186.02 L357.85 186.67 L358.10 186.67 L358.35 187.17 L358.60 187.10 L358.85 187.79 L359.10 187.21 L359.35 187.49 L359.60 187.58 L359.85 187.12 L360.10 188.34 L360.35 187.47 L360.60 187.01 L360.85 188.69 L361.10 188.38 L361.35 187.68 L361.60 188.44 L361.85 188.20 L362.10 187.44 L362.35 184.99 L362.60 182.86 L362.85 176.90 L363.10 168.54 L363.35 156.19 L363.60 140.51 L363.85 124.61 L364.10 109.40 L364.50 99.40 L364.85 107.86 L365.10 121.26 L365.35 137.33 L365.60 153.73 L365.85 167.12 L366.10 176.72 L366.35 181.83 L366.60 186.23 L366.85 187.23 L367.10 188.34 L367.35 187.19 L367.60 187.47 L367.85 188.76 L368.10 187.98 L368.35 188.37 L368.60 188.78 L368.85 187.32 L369.10 188.37 L369.35 189.21 L369.60 188.62 L369.85 188.28 L370.10 188.59 L370.35 188.33 L370.60 188.80 L370.85 189.14 L371.10 188.34 L371.35 188.83 L371.60 188.73 L371.85 189.02 L372.10 189.12 L372.35 188.10 L372.60 189.39 L372.85 189.27 L373.10 188.23 L373.35 188.73 L373.60 188.13 L373.85 188.82 L374.10 189.21 L374.35 188.43 L374.60 188.69 L374.85 188.68 L375.10 188.83 L375.35 188.84 L375.60 188.72 L375.85 189.68 L376.10 189.29 L376.35 189.00 L376.60 190.05 L376.85 189.24 L377.10 190.09 L377.35 188.96 L377.60 190.47 L377.85 189.49 L378.10 189.26 L378.35 190.06 L378.60 189.13 L378.85 189.31 L379.10 190.08 L379.35 189.73 L379.60 190.25 L379.85 190.15 L380.10 190.25 L380.35 190.23 L380.60 190.59 L380.85 190.24 L381.10 190.89 L381.35 190.84 L381.60 189.27 L381.85 189.43 L382.10 191.30 L382.35 190.23 L382.60 190.62 L382.85 190.50 L383.10 190.75 L383.35 191.86 L383.60 190.29 L383.85 190.76 L384.10 190.77 L384.35 190.21 L384.60 190.36 L384.85 190.74 L385.10 190.92 L385.35 191.18 L385.60 189.92 L385.85 190.18 L386.10 192.00 L386.35 191.03 L386.60 191.62 L386.85 190.98 L387.10 190.86 L387.35 192.46 L387.60 190.65 L387.85 190.87 L388.10 191.79 L388.35 191.46 L388.60 190.59 L388.85 191.61 L389.10 191.98 L389.35 190.77 L389.60 191.35 L389.85 192.13 L390.10 192.77 L390.35 190.41 L390.60 191.30 L390.85 191.67 L391.10 191.14 L391.35 191.12 L391.60 191.33 L391.85 191.87 L392.10 190.98 L392.35 192.03 L392.60 191.99 L392.85 191.98 L393.10 192.34 L393.35 191.19 L393.60 191.43 L393.85 191.99 L394.10 192.12 L394.35 191.92 L394.60 191.14 L394.85 191.10 L395.10 190.62 L395.35 191.09 L395.60 190.82 L395.85 191.02 L396.10 191.07 L396.35 191.72 L396.60 191.71 L396.85 191.19 L397.10 190.57 L397.35 191.16 L397.60 191.41 L397.85 191.62 L398.10 191.25 L398.35 191.56 L398.60 190.73 L398.85 191.43 L399.10 191.47 L399.35 190.84 L399.60 190.60 L399.85 191.68 L400.10 190.44 L400.35 191.35 L400.60 190.80 L400.85 190.74 L401.10 190.79 L401.35 190.73 L401.60 190.98 L401.85 191.99 L402.10 191.77 L402.35 190.76 L402.60 190.79 L402.85 190.47 L403.10 188.73 L403.35 188.31 L403.60 184.69 L403.85 181.10 L404.10 174.66 L404.35 167.05 L404.60 157.46 L404.85 145.93 L405.10 133.42 L405.35 118.22 L405.60 104.45 L405.85 90.58 L406.10 79.70 L406.35 73.46 L406.60 71.00 L406.85 73.25 L407.10 79.52 L407.35 91.15 L407.60 105.04 L407.85 118.81 L408.10 132.82 L408.35 146.61 L408.60 158.19 L408.85 168.48 L409.10 175.72 L409.35 181.85 L409.60 186.03 L409.85 189.40 L410.10 189.80 L410.35 190.43 L410.60 193.14 L410.85 192.90 L411.10 192.71 L411.35 193.35 L411.60 192.67 L411.85 193.08 L412.10 193.71 L412.35 193.23 L412.60 193.54 L412.85 193.77 L413.10 193.66 L413.35 193.52 L413.60 194.00 L413.85 194.51 L414.10 194.54 L414.35 193.42 L414.60 194.39 L414.85 192.98 L415.10 193.32 L415.35 194.38 L415.60 194.51 L415.85 195.03 L416.10 193.40 L416.35 195.00 L416.60 194.17 L416.85 194.27 L417.10 194.84 L417.35 195.43 L417.60 194.20 L417.85 193.84 L418.10 194.49 L418.35 194.74 L418.60 195.46 L418.85 194.99 L419.10 194.62 L419.35 194.49 L419.60 194.51 L419.85 195.29 L420.10 193.83 L420.35 194.36 L420.60 194.25 L420.85 195.34 L421.10 194.78 L421.35 194.34 L421.60 195.11 L421.85 195.76 L422.10 195.24 L422.35 193.96 L422.60 194.55 L422.85 195.28 L423.10 193.65 L423.35 193.97 L423.60 194.40 L423.85 194.91 L424.10 194.14 L424.35 194.62 L424.60 194.39 L424.85 194.60 L425.10 193.71 L425.35 193.09 L425.60 193.07 L425.85 194.29 L426.10 194.68 L426.35 194.35 L426.60 193.15 L426.85 193.02 L427.10 193.76 L427.35 193.36 L427.60 192.79 L427.85 193.43 L428.10 193.25 L428.35 193.57 L428.60 193.79 L428.85 193.62 L429.10 193.57 L429.35 193.70 L429.60 193.29 L429.85 193.05 L430.10 193.05 L430.35 193.83 L430.60 192.97 L430.85 193.51 L431.10 193.93 L431.35 193.92 L431.60 191.72 L431.85 192.93 L432.10 193.37 L432.35 192.63 L432.60 192.54 L432.85 192.19 L433.10 192.66 L433.35 193.07 L433.60 192.09 L433.85 193.17 L434.10 192.76 L434.35 193.28 L434.60 192.72 L434.85 193.41 L435.10 193.51 L435.35 193.09 L435.60 193.15 L435.85 194.09 L436.10 193.96 L436.35 193.23 L436.60 193.95 L436.85 193.13 L437.10 193.52 L437.35 192.25 L437.60 193.60 L437.85 194.33 L438.10 193.74 L438.35 194.38 L438.60 193.75 L438.85 194.32 L439.10 194.12 L439.35 193.71 L439.60 195.45 L439.85 193.89 L440.10 193.66 L440.35 194.52 L440.60 194.76 L440.85 194.73 L441.10 194.54 L441.35 194.90 L441.60 195.21 L441.85 195.08 L442.10 194.03 L442.35 195.79 L442.60 194.87 L442.85 193.76 L443.10 195.32 L443.35 194.75 L443.60 194.96 L443.85 195.86 L444.10 194.45 L444.35 194.37 L444.60 194.15 L444.85 194.76 L445.10 194.99 L445.35 194.81 L445.60 194.66 L445.85 193.37 L446.10 194.66 L446.35 195.08 L446.60 194.17 L446.85 194.13 L447.10 193.76 L447.35 194.23 L447.60 193.02 L447.85 194.71 L448.10 193.33 L448.35 192.89 L448.60 192.33 L448.85 193.08 L449.10 193.09 L449.35 192.03 L449.60 192.21 L449.85 192.06 L450.10 192.21 L450.35 191.80 L450.60 191.92 L450.85 190.24 L451.10 192.23 L451.35 190.31 L451.60 189.74 L451.85 189.63 L452.10 190.12 L452.35 190.08 L452.60 190.74 L452.85 189.83 L453.10 188.49 L453.35 188.47 L453.60 188.15 L453.85 187.83 L454.10 187.81 L454.35 187.32 L454.60 188.05 L454.85 187.34 L455.10 187.33 L455.35 186.86 L455.60 186.27 L455.85 187.11 L456.10 186.61 L456.35 187.88 L456.60 187.42 L456.85 186.04 L457.10 186.11 L457.35 186.31 L457.60 186.45 L457.85 187.15 L458.10 186.42 L458.35 186.85 L458.60 186.48 L458.85 186.55 L459.10 187.30 L459.35 186.49 L459.60 187.27 L459.85 185.69 L460.10 185.21 L460.35 184.20 L460.60 183.00 L460.85 182.00 L461.10 178.56 L461.35 176.41 L461.60 173.85 L461.85 173.11 L462.10 170.39 L462.35 168.88 L462.80 167.60 L463.10 168.36 L463.35 168.04 L463.60 170.85 L463.85 172.21 L464.10 174.25 L464.35 176.20 L464.60 178.20 L464.85 180.23 L465.10 181.83 L465.35 183.70 L465.60 185.64 L465.85 185.37 L466.10 188.04 L466.35 188.84 L466.60 188.63 L466.85 190.08 L467.10 190.45 L467.35 190.38 L467.60 191.92 L467.85 191.37 L468.10 191.45 L468.35 191.03 L468.60 193.15 L468.85 192.28 L469.10 192.53 L469.35 192.43 L469.60 193.88 L469.85 192.85 L470.10 193.99 L470.35 193.90 L470.60 194.04 L470.85 194.05 L471.10 194.47 L471.35 193.82 L471.60 192.80 L471.85 192.52 L472.10 194.67 L472.35 192.98 L472.60 194.90 L472.85 195.92 L473.10 193.24 L473.35 194.67 L473.60 194.65 L473.85 194.05 L474.10 193.41 L474.35 194.50 L474.60 195.54 L474.85 194.61 L475.10 194.72 L475.35 194.82 L475.60 194.86 L475.85 195.05 L476.10 196.20 L476.35 194.52 L476.60 194.05 L476.85 195.58 L477.10 194.88 L477.35 194.95 L477.60 194.51 L477.85 195.24 L478.10 195.15 L478.35 195.68 L478.60 195.28 L478.85 194.75 L479.10 195.88 L479.35 195.62 L479.60 194.68 L479.85 195.59 L480.10 196.22 L480.35 195.74 L480.60 195.58 L480.85 196.06 L481.10 195.36 L481.35 195.31 L481.60 195.96 L481.85 195.56 L482.10 195.28 L482.35 195.73 L482.60 195.72 L482.85 196.07 L483.10 196.09 L483.35 195.56 L483.60 195.48 L483.85 194.96 L484.10 195.56 L484.35 195.23 L484.60 195.88 L484.85 195.90 L485.10 195.85 L485.35 195.50 L485.60 195.75 L485.85 196.43 L486.10 196.58 L486.35 195.36 L486.60 194.17 L486.85 196.10 L487.10 194.95 L487.35 195.86 L487.60 196.11 L487.85 196.72 L488.10 195.84 L488.35 195.91 L488.60 195.70 L488.85 196.21 L489.10 195.42 L489.35 196.43 L489.60 196.34 L489.85 196.94 L490.10 196.06 L490.35 196.45 L490.60 196.41 L490.85 196.33 L491.10 195.85 L491.35 196.11 L491.60 196.48 L491.85 196.76 L492.10 197.09 L492.35 196.23 L492.60 196.74 L492.85 196.97 L493.10 197.14 L493.35 196.84 L493.60 196.86 L493.85 196.59 L494.10 196.83 L494.35 196.75 L494.60 195.94 L494.85 196.54 L495.10 195.65 L495.35 197.28 L495.60 197.52 L495.85 196.88 L496.10 197.21 L496.35 197.24 L496.60 197.05 L496.85 198.03 L497.10 197.16 L497.35 197.47 L497.60 197.30 L497.85 198.46 L498.10 196.51 L498.35 197.55 L498.60 196.75 L498.85 197.12 L499.10 197.03 L499.35 198.01 L499.60 197.03 L499.85 197.11 L500.10 197.52 L500.35 197.21 L500.60 197.23 L500.85 198.67 L501.10 197.46 L501.35 197.40 L501.60 198.61 L501.85 197.91 L502.10 198.49 L502.35 197.00 L502.60 197.75 L502.85 198.18 L503.10 198.05 L503.35 198.24 L503.60 198.64 L503.85 198.29 L504.10 198.59 L504.35 198.41 L504.60 197.60 L504.85 198.13 L505.10 198.75 L505.35 197.53 L505.60 198.36 L505.85 198.42 L506.10 198.82 L506.35 197.19 L506.60 199.42 L506.85 197.28 L507.10 198.15 L507.35 199.55 L507.60 197.43 L507.85 199.42 L508.10 198.35 L508.35 199.26 L508.60 199.02 L508.85 198.32 L509.10 197.82 L509.35 198.09 L509.60 197.57 L509.85 197.54 L510.10 198.51 L510.35 197.52 L510.60 198.53 L510.85 198.31 L511.10 198.28 L511.35 197.80 L511.60 197.71 L511.85 198.83 L512.10 197.89 L512.35 198.11 L512.60 198.34 L512.85 198.82 L513.10 199.55 L513.35 199.55 L513.60 198.92 L513.85 198.87 L514.10 198.88 L514.35 198.41 L514.60 198.43 L514.85 197.61 L515.10 198.87 L515.35 198.31 L515.60 198.80 L515.85 199.84 L516.10 199.09 L516.35 199.26 L516.60 199.13 L516.85 198.35 L517.10 198.32 L517.35 197.89 L517.60 198.39 L517.85 198.80 L518.10 199.11 L518.35 199.06 L518.60 198.56 L518.85 198.14 L519.10 198.81 L519.35 198.96 L519.60 197.72 L519.85 198.87 L520.10 198.05 L520.35 198.59 L520.60 198.78 L520.85 198.33 L521.10 198.60 L521.35 198.90 L521.60 198.36 L521.85 199.30 L522.10 199.30 L522.35 199.25 L522.60 198.38 L522.85 198.87 L523.10 198.81 L523.35 199.06 L523.60 199.43 L523.85 198.74 L524.10 199.05 L524.35 199.50 L524.60 198.89 L524.85 199.47 L525.10 199.08 L525.35 198.33 L525.60 199.09 L525.85 199.18 L526.10 198.86 L526.35 200.13 L526.60 198.86 L526.85 198.26 L527.10 198.96 L527.35 198.92 L527.60 199.31 L527.85 200.41 L528.10 199.09 L528.35 199.45 L528.60 198.60 L528.85 198.46 L529.10 198.58 L529.35 198.85 L529.60 198.70 L529.85 198.93 L530.10 198.57 L530.35 198.26 L530.60 198.48 L530.85 199.32 L531.10 198.26 L531.35 199.31 L531.60 199.77 L531.85 198.35 L532.10 199.34 L532.35 199.30 L532.60 197.38 L532.85 199.29 L533.10 199.12 L533.35 198.19 L533.60 199.46 L533.85 197.38 L534.10 198.94 L534.35 198.24 L534.60 197.39 L534.85 197.88 L535.10 196.85 L535.35 197.89 L535.60 197.72 L535.85 197.96 L536.10 198.05 L536.35 197.05 L536.60 197.87 L536.85 197.41 L537.10 196.32 L537.35 198.59 L537.60 198.87 L537.85 198.51 L538.10 199.50" fill="none" stroke="#1a1a1a" stroke-width="0.75" stroke-linejoin="round"/>
<text class="pk" text-anchor="middle" transform="translate(307.9 124.2) scale(0.93 1)">1</text>
<text class="pk" text-anchor="middle" transform="translate(320.6 76.4) scale(0.93 1)">2</text>
<text class="pk" text-anchor="middle" transform="translate(353.1 160.1) scale(0.93 1)">4</text>
<text class="pk" text-anchor="middle" transform="translate(364.2 95.6) scale(0.93 1)">5</text>
<text class="pk" text-anchor="middle" transform="translate(406.5 67.5) scale(0.93 1)">7</text>
<text class="pk" text-anchor="middle" transform="translate(461.9 162.4) scale(0.93 1)">10</text>
<path d="M307.6 127.1 L310.76 137.44" stroke="#111" stroke-width="0.8"/>
<path d="M311.7 140.5 L309.33 137.88 L312.20 137.00Z" fill="#111"/>
<path d="M26.9 227.8 H274.0 V424.6" fill="none" stroke="#a8a8a8" stroke-width="1.2"/>
<path d="M26.9 227.8 V425.20000000000005" fill="none" stroke="#606060" stroke-width="1.3"/>
<path d="M26.9 424.3 H274.0" fill="none" stroke="#8a8a8a" stroke-width="1"/>
<path d="M25.40 231.76H26.9 M25.40 235.40H26.9 M25.40 239.04H26.9 M25.40 242.68H26.9 M25.40 246.31H26.9 M25.40 249.95H26.9 M25.40 253.59H26.9 M25.40 257.23H26.9 M25.40 260.86H26.9 M25.40 264.50H26.9 M25.40 268.14H26.9 M25.40 271.78H26.9 M25.40 275.41H26.9 M25.40 279.05H26.9 M25.40 282.69H26.9 M25.40 286.32H26.9 M25.40 289.96H26.9 M25.40 293.60H26.9 M25.40 297.24H26.9 M25.40 300.88H26.9 M25.40 304.51H26.9 M25.40 308.15H26.9 M25.40 311.79H26.9 M25.40 315.43H26.9 M25.40 319.06H26.9 M25.40 322.70H26.9 M25.40 326.34H26.9 M25.40 329.98H26.9 M25.40 333.61H26.9 M25.40 337.25H26.9 M25.40 340.89H26.9 M25.40 344.52H26.9 M25.40 348.16H26.9 M25.40 351.80H26.9 M25.40 355.44H26.9 M25.40 359.07H26.9 M25.40 362.71H26.9 M25.40 366.35H26.9 M25.40 369.99H26.9 M25.40 373.62H26.9 M25.40 377.26H26.9 M25.40 380.90H26.9 M25.40 384.54H26.9 M25.40 388.18H26.9 M25.40 391.81H26.9 M25.40 395.45H26.9 M25.40 399.09H26.9 M25.40 402.73H26.9 M25.40 406.36H26.9 M25.40 410.00H26.9 M25.40 413.64H26.9 M25.40 417.27H26.9 M25.40 420.91H26.9 M25.40 424.55H26.9 M24.70 235.40H26.9 M24.70 271.77H26.9 M24.70 308.15H26.9 M24.70 344.52H26.9 M24.70 380.90H26.9 M24.70 417.27H26.9" stroke="#606060" stroke-width="0.7" fill="none"/>
<path d="M27.30 424.1V426.60 M29.33 424.1V425.70 M31.35 424.1V425.70 M33.38 424.1V425.70 M35.41 424.1V425.70 M37.43 424.1V426.60 M39.46 424.1V425.70 M41.49 424.1V425.70 M43.52 424.1V425.70 M45.54 424.1V425.70 M47.57 424.1V426.60 M49.60 424.1V425.70 M51.62 424.1V425.70 M53.65 424.1V425.70 M55.68 424.1V425.70 M57.70 424.1V426.60 M59.73 424.1V425.70 M61.76 424.1V425.70 M63.79 424.1V425.70 M65.81 424.1V425.70 M67.84 424.1V426.60 M69.87 424.1V425.70 M71.89 424.1V425.70 M73.92 424.1V425.70 M75.95 424.1V425.70 M77.97 424.1V426.60 M80.00 424.1V425.70 M82.03 424.1V425.70 M84.06 424.1V425.70 M86.08 424.1V425.70 M88.11 424.1V426.60 M90.14 424.1V425.70 M92.16 424.1V425.70 M94.19 424.1V425.70 M96.22 424.1V425.70 M98.24 424.1V426.60 M100.27 424.1V425.70 M102.30 424.1V425.70 M104.33 424.1V425.70 M106.35 424.1V425.70 M108.38 424.1V426.60 M110.41 424.1V425.70 M112.43 424.1V425.70 M114.46 424.1V425.70 M116.49 424.1V425.70 M118.51 424.1V426.60 M120.54 424.1V425.70 M122.57 424.1V425.70 M124.60 424.1V425.70 M126.62 424.1V425.70 M128.65 424.1V426.60 M130.68 424.1V425.70 M132.70 424.1V425.70 M134.73 424.1V425.70 M136.76 424.1V425.70 M138.78 424.1V426.60 M140.81 424.1V425.70 M142.84 424.1V425.70 M144.87 424.1V425.70 M146.89 424.1V425.70 M148.92 424.1V426.60 M150.95 424.1V425.70 M152.97 424.1V425.70 M155.00 424.1V425.70 M157.03 424.1V425.70 M159.05 424.1V426.60 M161.08 424.1V425.70 M163.11 424.1V425.70 M165.14 424.1V425.70 M167.16 424.1V425.70 M169.19 424.1V426.60 M171.22 424.1V425.70 M173.24 424.1V425.70 M175.27 424.1V425.70 M177.30 424.1V425.70 M179.32 424.1V426.60 M181.35 424.1V425.70 M183.38 424.1V425.70 M185.41 424.1V425.70 M187.43 424.1V425.70 M189.46 424.1V426.60 M191.49 424.1V425.70 M193.51 424.1V425.70 M195.54 424.1V425.70 M197.57 424.1V425.70 M199.59 424.1V426.60 M201.62 424.1V425.70 M203.65 424.1V425.70 M205.68 424.1V425.70 M207.70 424.1V425.70 M209.73 424.1V426.60 M211.76 424.1V425.70 M213.78 424.1V425.70 M215.81 424.1V425.70 M217.84 424.1V425.70 M219.86 424.1V426.60 M221.89 424.1V425.70 M223.92 424.1V425.70 M225.95 424.1V425.70 M227.97 424.1V425.70 M230.00 424.1V426.60 M232.03 424.1V425.70 M234.05 424.1V425.70 M236.08 424.1V425.70 M238.11 424.1V425.70 M240.13 424.1V426.60 M242.16 424.1V425.70 M244.19 424.1V425.70 M246.22 424.1V425.70 M248.24 424.1V425.70 M250.27 424.1V426.60 M252.30 424.1V425.70 M254.32 424.1V425.70 M256.35 424.1V425.70 M258.38 424.1V425.70 M260.40 424.1V426.60 M262.43 424.1V425.70 M264.46 424.1V425.70 M266.49 424.1V425.70 M268.51 424.1V425.70 M270.54 424.1V426.60 M272.57 424.1V425.70" stroke="#5a5a5a" stroke-width="0.75" fill="none"/>
<text class="tk" text-anchor="end" transform="translate(23.70 237.70) scale(0.77 1)">0.0</text>
<text class="tk" text-anchor="end" transform="translate(23.70 274.07) scale(0.77 1)">-0.5</text>
<text class="tk" text-anchor="end" transform="translate(23.70 310.45) scale(0.77 1)">-1.0</text>
<text class="tk" text-anchor="end" transform="translate(23.70 346.82) scale(0.77 1)">-1.5</text>
<text class="tk" text-anchor="end" transform="translate(23.70 383.20) scale(0.77 1)">-2.0</text>
<text class="tk" text-anchor="end" transform="translate(23.70 419.57) scale(0.77 1)">-2.5</text>
<text class="tk" text-anchor="middle" transform="translate(27.30 431.60) scale(0.77 1)">10</text>
<text class="tk" text-anchor="middle" transform="translate(47.57 431.60) scale(0.77 1)">12</text>
<text class="tk" text-anchor="middle" transform="translate(67.84 431.60) scale(0.77 1)">14</text>
<text class="tk" text-anchor="middle" transform="translate(88.11 431.60) scale(0.77 1)">16</text>
<text class="tk" text-anchor="middle" transform="translate(108.38 431.60) scale(0.77 1)">18</text>
<text class="tk" text-anchor="middle" transform="translate(128.65 431.60) scale(0.77 1)">20</text>
<text class="tk" text-anchor="middle" transform="translate(148.92 431.60) scale(0.77 1)">22</text>
<text class="tk" text-anchor="middle" transform="translate(169.19 431.60) scale(0.77 1)">24</text>
<text class="tk" text-anchor="middle" transform="translate(189.46 431.60) scale(0.77 1)">26</text>
<text class="tk" text-anchor="middle" transform="translate(209.73 431.60) scale(0.77 1)">28</text>
<text class="tk" text-anchor="middle" transform="translate(230.00 431.60) scale(0.77 1)">30</text>
<text class="tk" text-anchor="middle" transform="translate(250.27 431.60) scale(0.77 1)">32</text>
<text class="tk" text-anchor="middle" transform="translate(270.54 431.60) scale(0.77 1)">34</text>
<text x="130.5" y="440.2" class="tt" text-anchor="middle">Migration time (min)</text>
<text x="0" y="0" class="tt" text-anchor="middle" transform="translate(11.2 324.9) rotate(-90)">Absorbance (mAU)</text>
<text x="42.8" y="250.6" class="pl">(C)</text>
<path d="M27.10 411.35 L27.35 412.05 L27.60 410.60 L27.85 409.87 L28.10 410.82 L28.35 410.85 L28.60 410.53 L28.85 410.42 L29.10 409.85 L29.35 409.27 L29.60 408.88 L29.85 408.86 L30.10 408.46 L30.35 408.87 L30.60 408.39 L30.85 407.05 L31.10 408.04 L31.35 407.89 L31.60 408.77 L31.85 409.24 L32.10 408.97 L32.35 407.92 L32.60 409.52 L32.85 408.54 L33.10 410.46 L33.35 409.32 L33.60 409.66 L33.85 410.87 L34.10 408.97 L34.35 410.05 L34.60 409.52 L34.85 409.92 L35.10 409.85 L35.35 410.76 L35.60 410.30 L35.85 410.70 L36.10 410.79 L36.35 409.14 L36.60 410.11 L36.85 408.10 L37.30 407.00 L37.60 406.91 L37.85 408.73 L38.10 410.75 L38.35 411.56 L38.60 410.84 L38.85 411.10 L39.10 410.41 L39.35 409.21 L39.60 406.11 L39.85 404.33 L40.10 402.70 L40.35 403.29 L40.60 405.78 L40.85 409.01 L41.10 410.69 L41.35 411.05 L41.60 411.70 L41.85 411.59 L42.10 411.98 L42.35 412.26 L42.60 411.94 L42.85 412.12 L43.10 411.31 L43.35 410.67 L43.60 408.22 L43.85 407.09 L44.10 403.43 L44.50 400.20 L44.85 402.49 L45.10 403.99 L45.35 407.66 L45.60 409.80 L45.85 410.42 L46.10 412.60 L46.35 413.06 L46.60 411.79 L46.85 412.83 L47.10 413.61 L47.35 411.99 L47.60 413.25 L47.85 413.60 L48.10 413.77 L48.35 411.98 L48.60 412.17 L48.85 412.90 L49.10 413.47 L49.35 412.11 L49.60 412.41 L49.85 412.22 L50.10 413.49 L50.35 412.57 L50.60 413.23 L50.85 413.28 L51.10 413.59 L51.35 413.19 L51.60 413.16 L51.85 413.64 L52.10 413.28 L52.35 412.32 L52.60 412.74 L52.85 413.57 L53.10 413.16 L53.35 412.90 L53.60 413.25 L53.85 415.00 L54.10 413.12 L54.35 413.44 L54.60 413.44 L54.85 413.05 L55.10 413.89 L55.35 413.72 L55.60 413.48 L55.85 412.51 L56.10 414.00 L56.35 413.74 L56.60 413.28 L56.85 411.82 L57.10 413.33 L57.35 412.69 L57.60 413.27 L57.85 413.13 L58.10 412.96 L58.35 414.02 L58.60 413.53 L58.85 414.18 L59.10 412.96 L59.35 413.41 L59.60 414.31 L59.85 413.74 L60.10 413.16 L60.35 413.06 L60.60 413.24 L60.85 413.52 L61.10 413.96 L61.35 413.66 L61.60 414.01 L61.85 414.06 L62.10 413.65 L62.35 414.32 L62.60 414.01 L62.85 413.49 L63.10 413.50 L63.35 413.59 L63.60 413.18 L63.85 412.84 L64.10 413.63 L64.35 413.32 L64.60 413.94 L64.85 413.27 L65.10 413.67 L65.35 413.73 L65.60 413.35 L65.85 413.73 L66.10 413.22 L66.35 413.38 L66.60 414.08 L66.85 413.85 L67.10 413.63 L67.35 413.19 L67.60 414.03 L67.85 414.77 L68.10 412.41 L68.35 414.24 L68.60 413.77 L68.85 414.27 L69.10 414.31 L69.35 413.08 L69.60 414.64 L69.85 413.33 L70.10 413.52 L70.35 414.02 L70.60 413.62 L70.85 413.83 L71.10 413.39 L71.35 413.10 L71.60 413.70 L71.85 413.08 L72.10 414.45 L72.35 413.79 L72.60 414.33 L72.85 412.49 L73.10 411.22 L73.35 409.65 L73.60 408.56 L73.85 405.62 L74.10 404.69 L74.30 403.90 L74.60 404.29 L74.85 406.54 L75.10 409.90 L75.35 411.43 L75.60 413.22 L75.85 413.88 L76.10 413.87 L76.35 413.07 L76.60 413.30 L76.85 415.07 L77.10 413.67 L77.35 413.97 L77.60 413.88 L77.85 413.80 L78.10 413.72 L78.35 413.51 L78.60 413.54 L78.85 412.70 L79.10 414.78 L79.35 413.78 L79.60 413.11 L79.85 414.15 L80.10 414.24 L80.35 413.04 L80.60 413.57 L80.85 414.70 L81.10 414.16 L81.35 414.07 L81.60 414.34 L81.85 413.56 L82.10 413.10 L82.35 413.37 L82.60 410.82 L82.85 408.17 L83.10 404.36 L83.35 398.28 L83.60 390.78 L83.85 385.79 L84.10 379.42 L84.40 376.90 L84.85 383.37 L85.10 388.98 L85.35 395.11 L85.60 402.75 L85.85 406.62 L86.10 409.51 L86.35 411.95 L86.60 411.81 L86.85 413.75 L87.10 413.32 L87.35 413.68 L87.60 413.34 L87.85 414.24 L88.10 414.06 L88.35 414.47 L88.60 414.80 L88.85 414.02 L89.10 413.91 L89.35 414.03 L89.60 413.40 L89.85 413.55 L90.10 414.29 L90.35 413.40 L90.60 412.80 L90.85 413.71 L91.10 414.07 L91.35 414.77 L91.60 413.55 L91.85 413.44 L92.10 414.04 L92.35 413.91 L92.60 414.15 L92.85 413.74 L93.10 414.16 L93.35 413.73 L93.60 414.63 L93.85 414.25 L94.10 414.43 L94.35 413.87 L94.60 413.33 L94.85 414.15 L95.10 414.13 L95.35 414.80 L95.60 414.74 L95.85 414.19 L96.10 414.20 L96.35 413.68 L96.60 414.23 L96.85 414.39 L97.10 414.05 L97.35 413.69 L97.60 415.03 L97.85 413.81 L98.10 415.27 L98.35 415.02 L98.60 415.24 L98.85 413.91 L99.10 414.75 L99.35 413.64 L99.60 414.23 L99.85 413.59 L100.10 414.05 L100.35 414.19 L100.60 415.03 L100.85 415.11 L101.10 414.31 L101.35 414.37 L101.60 414.02 L101.85 413.92 L102.10 413.58 L102.35 414.47 L102.60 414.94 L102.85 414.19 L103.10 414.84 L103.35 414.01 L103.60 414.10 L103.85 414.38 L104.10 415.19 L104.35 414.42 L104.60 415.15 L104.85 414.54 L105.10 414.14 L105.35 413.65 L105.60 414.52 L105.85 414.26 L106.10 415.32 L106.35 415.08 L106.60 413.93 L106.85 415.33 L107.10 415.17 L107.35 413.27 L107.60 414.32 L107.85 415.05 L108.10 414.04 L108.35 414.54 L108.60 415.25 L108.85 415.12 L109.10 415.24 L109.35 415.35 L109.60 414.53 L109.85 416.37 L110.10 415.33 L110.35 416.22 L110.60 414.87 L110.85 415.31 L111.10 415.18 L111.35 414.89 L111.60 415.14 L111.85 415.10 L112.10 415.39 L112.35 415.10 L112.60 414.95 L112.85 415.17 L113.10 415.69 L113.35 414.92 L113.60 415.20 L113.85 414.93 L114.10 413.75 L114.35 414.33 L114.60 414.30 L114.85 414.03 L115.10 414.44 L115.35 413.80 L115.60 414.91 L115.85 414.45 L116.10 415.42 L116.35 414.94 L116.60 414.01 L116.85 414.58 L117.10 414.71 L117.35 414.30 L117.60 414.46 L117.85 414.05 L118.10 414.24 L118.35 414.81 L118.60 414.49 L118.85 415.35 L119.10 413.53 L119.35 414.27 L119.60 414.52 L119.85 415.55 L120.10 415.36 L120.35 415.18 L120.60 415.30 L120.85 415.64 L121.10 415.10 L121.35 414.53 L121.60 414.59 L121.85 413.76 L122.10 413.40 L122.35 412.59 L122.60 410.18 L122.85 407.41 L123.10 402.36 L123.35 394.95 L123.60 385.32 L123.85 374.01 L124.10 358.26 L124.35 340.87 L124.60 321.09 L124.85 301.90 L125.10 284.65 L125.35 270.63 L125.60 263.21 L125.80 260.30 L126.10 265.66 L126.35 276.00 L126.60 290.63 L126.85 309.30 L127.10 329.19 L127.35 348.58 L127.60 364.89 L127.85 379.18 L128.10 390.80 L128.35 399.06 L128.60 404.93 L128.85 408.46 L129.10 412.36 L129.35 413.25 L129.60 413.92 L129.85 414.67 L130.10 414.28 L130.35 414.23 L130.60 414.25 L130.85 415.48 L131.10 414.58 L131.35 415.38 L131.60 414.68 L131.85 414.37 L132.10 415.02 L132.35 414.97 L132.60 415.01 L132.85 416.35 L133.10 415.52 L133.35 415.10 L133.60 415.92 L133.85 415.28 L134.10 416.13 L134.35 414.62 L134.60 416.09 L134.85 414.91 L135.10 415.10 L135.35 415.61 L135.60 414.90 L135.85 414.58 L136.10 415.26 L136.35 415.30 L136.60 414.55 L136.85 415.98 L137.10 414.99 L137.35 415.09 L137.60 415.29 L137.85 415.44 L138.10 415.98 L138.35 414.21 L138.60 415.39 L138.85 415.86 L139.10 415.50 L139.35 415.32 L139.60 414.74 L139.85 415.53 L140.10 415.07 L140.35 415.40 L140.60 414.73 L140.85 415.13 L141.10 415.22 L141.35 414.48 L141.60 415.85 L141.85 415.21 L142.10 414.56 L142.35 415.12 L142.60 415.32 L142.85 415.05 L143.10 414.66 L143.35 415.10 L143.60 414.47 L143.85 414.29 L144.10 415.84 L144.35 416.13 L144.60 416.21 L144.85 416.42 L145.10 415.91 L145.35 414.64 L145.60 414.84 L145.85 415.74 L146.10 414.87 L146.35 414.93 L146.60 415.10 L146.85 415.34 L147.10 414.35 L147.35 415.11 L147.60 415.35 L147.85 413.94 L148.10 415.68 L148.35 415.48 L148.60 414.60 L148.85 416.05 L149.10 415.26 L149.35 415.29 L149.60 415.86 L149.85 413.59 L150.10 415.00 L150.35 415.57 L150.60 415.76 L150.85 414.95 L151.10 414.86 L151.35 414.52 L151.60 414.75 L151.85 414.45 L152.10 413.60 L152.35 414.58 L152.60 414.34 L152.85 414.56 L153.10 414.62 L153.35 414.60 L153.60 414.91 L153.85 414.81 L154.10 414.64 L154.35 414.48 L154.60 414.76 L154.85 414.63 L155.10 414.72 L155.35 415.54 L155.60 414.91 L155.85 414.55 L156.10 413.63 L156.35 413.95 L156.60 413.11 L156.85 415.21 L157.10 415.32 L157.35 414.48 L157.60 414.44 L157.85 414.95 L158.10 414.99 L158.35 413.71 L158.60 414.51 L158.85 414.47 L159.10 413.94 L159.35 415.40 L159.60 415.03 L159.85 414.27 L160.10 414.57 L160.35 414.29 L160.60 414.31 L160.85 414.36 L161.10 415.13 L161.35 414.57 L161.60 414.30 L161.85 414.18 L162.10 414.69 L162.35 414.06 L162.60 413.65 L162.85 414.45 L163.10 415.40 L163.35 414.14 L163.60 414.60 L163.85 414.39 L164.10 415.11 L164.35 414.54 L164.60 413.42 L164.85 414.92 L165.10 413.81 L165.35 413.15 L165.60 413.22 L165.85 413.37 L166.10 413.77 L166.35 412.87 L166.60 412.46 L166.85 413.44 L167.10 413.41 L167.35 412.20 L167.60 412.31 L167.85 412.28 L168.10 411.76 L168.35 411.26 L168.60 412.18 L168.85 410.85 L169.10 410.28 L169.35 411.46 L169.60 411.62 L169.85 411.27 L170.10 410.24 L170.35 410.37 L170.60 409.75 L170.85 409.90 L171.10 408.74 L171.35 409.61 L171.60 410.84 L171.85 409.43 L172.10 411.01 L172.35 410.15 L172.60 408.96 L172.85 410.55 L173.10 409.49 L173.35 410.29 L173.60 409.84 L173.85 409.68 L174.10 409.71 L174.35 409.05 L174.60 409.21 L174.85 409.10 L175.10 409.79 L175.35 407.73 L175.60 407.21 L175.85 406.01 L176.10 404.96 L176.35 402.57 L176.60 401.26 L176.85 399.28 L177.10 400.20 L177.50 398.30 L177.85 398.07 L178.10 399.88 L178.35 400.69 L178.60 402.34 L178.85 403.47 L179.10 405.06 L179.35 407.38 L179.60 408.79 L179.85 409.52 L180.10 410.62 L180.35 411.76 L180.60 412.41 L180.85 413.34 L181.10 414.04 L181.35 414.30 L181.60 413.51 L181.85 414.63 L182.10 414.31 L182.35 415.35 L182.60 415.13 L182.85 415.63 L183.10 415.58 L183.35 416.30 L183.60 416.69 L183.85 416.20 L184.10 415.44 L184.35 416.42 L184.60 417.59 L184.85 416.08 L185.10 416.38 L185.35 417.73 L185.60 417.28 L185.85 416.66 L186.10 416.39 L186.35 415.50 L186.60 417.10 L186.85 416.66 L187.10 415.19 L187.35 416.02 L187.60 415.98 L187.85 415.97 L188.10 415.61 L188.35 417.31 L188.60 415.41 L188.85 416.67 L189.10 416.17 L189.35 415.79 L189.60 416.00 L189.85 416.12 L190.10 415.24 L190.35 415.43 L190.60 416.27 L190.85 416.08 L191.10 415.74 L191.35 414.83 L191.60 414.55 L191.85 416.24 L192.10 416.18 L192.35 415.62 L192.60 415.52 L192.85 415.09 L193.10 415.51 L193.35 415.86 L193.60 415.58 L193.85 414.82 L194.10 415.28 L194.35 414.75 L194.60 414.97 L194.85 414.36 L195.10 413.63 L195.35 414.32 L195.60 414.96 L195.85 414.38 L196.10 415.19 L196.35 414.67 L196.60 415.23 L196.85 414.91 L197.10 416.05 L197.35 415.13 L197.60 415.45 L197.85 416.16 L198.10 416.44 L198.35 415.07 L198.60 416.61 L198.85 415.31 L199.10 415.45 L199.35 415.62 L199.60 416.72 L199.85 415.67 L200.10 416.64 L200.35 416.57 L200.60 416.24 L200.85 416.61 L201.10 417.52 L201.35 417.28 L201.60 415.94 L201.85 416.56 L202.10 416.21 L202.35 416.37 L202.60 416.16 L202.85 416.77 L203.10 416.01 L203.35 415.81 L203.60 416.54 L203.85 416.70 L204.10 417.20 L204.35 416.92 L204.60 416.09 L204.85 416.07 L205.10 416.77 L205.35 416.75 L205.60 417.02 L205.85 417.36 L206.10 415.41 L206.35 416.32 L206.60 416.97 L206.85 416.09 L207.10 417.62 L207.35 416.66 L207.60 417.05 L207.85 416.63 L208.10 416.95 L208.35 416.99 L208.60 417.08 L208.85 416.04 L209.10 415.76 L209.35 416.77 L209.60 417.27 L209.85 416.71 L210.10 416.77 L210.35 417.46 L210.60 417.25 L210.85 416.38 L211.10 417.00 L211.35 416.81 L211.60 416.97 L211.85 416.91 L212.10 417.29 L212.35 416.97 L212.60 417.18 L212.85 417.03 L213.10 416.91 L213.35 416.72 L213.60 417.20 L213.85 417.31 L214.10 417.94 L214.35 418.45 L214.60 416.73 L214.85 416.76 L215.10 417.70 L215.35 416.90 L215.60 417.21 L215.85 416.45 L216.10 417.48 L216.35 416.36 L216.60 417.71 L216.85 416.71 L217.10 417.30 L217.35 417.72 L217.60 416.73 L217.85 417.13 L218.10 418.37 L218.35 416.44 L218.60 417.28 L218.85 416.13 L219.10 417.41 L219.35 417.14 L219.60 416.62 L219.85 416.59 L220.10 417.93 L220.35 417.62 L220.60 416.60 L220.85 417.71 L221.10 416.76 L221.35 416.84 L221.60 417.50 L221.85 417.23 L222.10 417.59 L222.35 417.89 L222.60 416.96 L222.85 417.61 L223.10 417.48 L223.35 416.42 L223.60 417.76 L223.85 417.89 L224.10 416.59 L224.35 417.17 L224.60 417.89 L224.85 417.85 L225.10 417.17 L225.35 417.24 L225.60 417.21 L225.85 416.71 L226.10 417.45 L226.35 418.55 L226.60 416.62 L226.85 417.39 L227.10 416.90 L227.35 418.25 L227.60 416.52 L227.85 417.92 L228.10 417.68 L228.35 416.98 L228.60 417.28 L228.85 417.49 L229.10 418.40 L229.35 417.62 L229.60 418.13 L229.85 418.06 L230.10 417.54 L230.35 417.51 L230.60 417.46 L230.85 418.40 L231.10 418.23 L231.35 418.05 L231.60 417.16 L231.85 417.38 L232.10 417.95 L232.35 417.44 L232.60 416.80 L232.85 416.73 L233.10 417.81 L233.35 417.98 L233.60 417.87 L233.85 418.43 L234.10 416.72 L234.35 416.61 L234.60 417.66 L234.85 418.08 L235.10 417.14 L235.35 417.75 L235.60 417.80 L235.85 417.36 L236.10 417.16 L236.35 417.45 L236.60 417.59 L236.85 418.04 L237.10 417.49 L237.35 417.13 L237.60 417.07 L237.85 417.42 L238.10 417.95 L238.35 417.21 L238.60 417.48 L238.85 417.98 L239.10 417.84 L239.35 418.82 L239.60 417.98 L239.85 418.06 L240.10 418.89 L240.35 416.71 L240.60 416.79 L240.85 417.33 L241.10 417.84 L241.35 418.43 L241.60 418.17 L241.85 417.51 L242.10 417.02 L242.35 418.03 L242.60 417.70 L242.85 417.32 L243.10 417.18 L243.35 418.26 L243.60 417.73 L243.85 418.01 L244.10 417.85 L244.35 417.50 L244.60 417.67 L244.85 417.60 L245.10 417.91 L245.35 417.59 L245.60 418.32 L245.85 417.45 L246.10 418.13 L246.35 418.08 L246.60 418.36 L246.85 416.38 L247.10 418.40 L247.35 418.25 L247.60 417.82 L247.85 417.89 L248.10 417.87 L248.35 417.29 L248.60 419.75 L248.85 418.01 L249.10 418.37 L249.35 417.49 L249.60 417.90 L249.85 416.86 L250.10 418.12 L250.35 417.70 L250.60 418.19 L250.85 418.43 L251.10 418.96 L251.35 418.24 L251.60 417.63 L251.85 417.97 L252.10 418.57 L252.35 419.28 L252.60 416.92 L252.85 417.60 L253.10 417.91 L253.35 418.22 L253.60 418.67 L253.85 419.11 L254.10 418.67 L254.35 419.15 L254.60 418.01 L254.85 417.94 L255.10 417.49 L255.35 417.97 L255.60 418.79 L255.85 418.42 L256.10 419.54 L256.35 418.27 L256.60 417.91 L256.85 418.76 L257.10 417.36 L257.35 418.94 L257.60 418.69 L257.85 417.74 L258.10 418.78 L258.35 418.65 L258.60 419.22 L258.85 418.41 L259.10 418.26 L259.35 418.57 L259.60 418.51 L259.85 418.02 L260.10 419.12 L260.35 419.15 L260.60 418.23 L260.85 418.33 L261.10 418.06 L261.35 418.41 L261.60 418.30 L261.85 418.68 L262.10 419.07 L262.35 419.54 L262.60 418.21 L262.85 418.31 L263.10 418.11 L263.35 418.73 L263.60 419.20 L263.85 418.29 L264.10 418.78 L264.35 418.25 L264.60 418.03 L264.85 418.53 L265.10 419.29 L265.35 418.65 L265.60 417.89 L265.85 418.32 L266.10 418.71 L266.35 419.98 L266.60 418.25 L266.85 420.47 L267.10 419.47 L267.35 419.64 L267.60 419.47 L267.85 417.56 L268.10 419.11 L268.35 419.13 L268.60 419.29 L268.85 419.73 L269.10 419.00 L269.35 418.61 L269.60 419.33 L269.85 419.17 L270.10 419.34 L270.35 418.86 L270.60 419.10 L270.85 417.43 L271.10 419.26 L271.35 419.74 L271.60 419.23 L271.85 419.15 L272.10 419.55 L272.35 419.05 L272.60 419.11 L272.85 420.20 L273.10 420.23 L273.35 418.29 L273.60 418.96 L273.85 419.47" fill="none" stroke="#1a1a1a" stroke-width="0.75" stroke-linejoin="round"/>
<text class="pk" text-anchor="middle" transform="translate(36 402.3) scale(0.93 1)">1</text>
<text class="pk" text-anchor="middle" transform="translate(45.2 396.7) scale(0.93 1)">2</text>
<text class="pk" text-anchor="middle" transform="translate(73.1 400.3) scale(0.93 1)">4</text>
<text class="pk" text-anchor="middle" transform="translate(84.5 373.6) scale(0.93 1)">5</text>
<text class="pk" text-anchor="middle" transform="translate(125.3 256.8) scale(0.93 1)">7</text>
<text class="pk" text-anchor="middle" transform="translate(177.3 393.7) scale(0.93 1)">10</text>
<path d="M300.3 227.6 H546.5 V424.8" fill="none" stroke="#9a9a9a" stroke-width="1.2"/>
<path d="M300.3 227.6 V425.40000000000003" fill="none" stroke="#606060" stroke-width="1.0"/>
<path d="M300.3 424.5 H546.5" fill="none" stroke="#8a8a8a" stroke-width="1"/>
<path d="M298.80 229.74H300.3 M298.80 231.60H300.3 M298.80 233.47H300.3 M298.80 235.34H300.3 M298.30 237.20H300.3 M298.80 239.06H300.3 M298.80 240.93H300.3 M298.80 242.79H300.3 M298.80 244.66H300.3 M298.30 246.52H300.3 M298.80 248.39H300.3 M298.80 250.25H300.3 M298.80 252.12H300.3 M298.80 253.98H300.3 M298.30 255.85H300.3 M298.80 257.71H300.3 M298.80 259.58H300.3 M298.80 261.44H300.3 M298.80 263.31H300.3 M298.30 265.18H300.3 M298.80 267.04H300.3 M298.80 268.90H300.3 M298.80 270.77H300.3 M298.80 272.63H300.3 M298.30 274.50H300.3 M298.80 276.37H300.3 M298.80 278.23H300.3 M298.80 280.10H300.3 M298.80 281.96H300.3 M298.30 283.82H300.3 M298.80 285.69H300.3 M298.80 287.56H300.3 M298.80 289.42H300.3 M298.80 291.29H300.3 M298.30 293.15H300.3 M298.80 295.01H300.3 M298.80 296.88H300.3 M298.80 298.75H300.3 M298.80 300.61H300.3 M298.30 302.48H300.3 M298.80 304.34H300.3 M298.80 306.20H300.3 M298.80 308.07H300.3 M298.80 309.93H300.3 M298.30 311.80H300.3 M298.80 313.66H300.3 M298.80 315.53H300.3 M298.80 317.39H300.3 M298.80 319.26H300.3 M298.30 321.12H300.3 M298.80 322.99H300.3 M298.80 324.86H300.3 M298.80 326.72H300.3 M298.80 328.58H300.3 M298.30 330.45H300.3 M298.80 332.31H300.3 M298.80 334.18H300.3 M298.80 336.04H300.3 M298.80 337.91H300.3 M298.30 339.77H300.3 M298.80 341.64H300.3 M298.80 343.50H300.3 M298.80 345.37H300.3 M298.80 347.24H300.3 M298.30 349.10H300.3 M298.80 350.97H300.3 M298.80 352.83H300.3 M298.80 354.69H300.3 M298.80 356.56H300.3 M298.30 358.43H300.3 M298.80 360.29H300.3 M298.80 362.15H300.3 M298.80 364.02H300.3 M298.80 365.88H300.3 M298.30 367.75H300.3 M298.80 369.62H300.3 M298.80 371.48H300.3 M298.80 373.35H300.3 M298.80 375.21H300.3 M298.30 377.07H300.3 M298.80 378.94H300.3 M298.80 380.80H300.3 M298.80 382.67H300.3 M298.80 384.53H300.3 M298.30 386.40H300.3 M298.80 388.26H300.3 M298.80 390.13H300.3 M298.80 391.99H300.3 M298.80 393.86H300.3 M298.30 395.72H300.3 M298.80 397.59H300.3 M298.80 399.45H300.3 M298.80 401.32H300.3 M298.80 403.18H300.3 M298.30 405.05H300.3 M298.80 406.91H300.3 M298.80 408.78H300.3 M298.80 410.64H300.3 M298.80 412.51H300.3 M298.30 414.38H300.3 M298.80 416.24H300.3 M298.80 418.11H300.3 M298.80 419.97H300.3 M298.80 421.83H300.3 M298.30 423.70H300.3 M298.10 237.20H300.3 M298.10 274.50H300.3 M298.10 311.80H300.3 M298.10 349.10H300.3 M298.10 386.40H300.3 M298.10 423.70H300.3" stroke="#606060" stroke-width="0.7" fill="none"/>
<path d="M301.60 424.3V426.80 M303.52 424.3V425.90 M305.43 424.3V425.90 M307.35 424.3V425.90 M309.27 424.3V425.90 M311.19 424.3V426.80 M313.10 424.3V425.90 M315.02 424.3V425.90 M316.94 424.3V425.90 M318.85 424.3V425.90 M320.77 424.3V426.80 M322.69 424.3V425.90 M324.60 424.3V425.90 M326.52 424.3V425.90 M328.44 424.3V425.90 M330.35 424.3V426.80 M332.27 424.3V425.90 M334.19 424.3V425.90 M336.11 424.3V425.90 M338.02 424.3V425.90 M339.94 424.3V426.80 M341.86 424.3V425.90 M343.77 424.3V425.90 M345.69 424.3V425.90 M347.61 424.3V425.90 M349.52 424.3V426.80 M351.44 424.3V425.90 M353.36 424.3V425.90 M355.28 424.3V425.90 M357.19 424.3V425.90 M359.11 424.3V426.80 M361.03 424.3V425.90 M362.94 424.3V425.90 M364.86 424.3V425.90 M366.78 424.3V425.90 M368.69 424.3V426.80 M370.61 424.3V425.90 M372.53 424.3V425.90 M374.45 424.3V425.90 M376.36 424.3V425.90 M378.28 424.3V426.80 M380.20 424.3V425.90 M382.11 424.3V425.90 M384.03 424.3V425.90 M385.95 424.3V425.90 M387.86 424.3V426.80 M389.78 424.3V425.90 M391.70 424.3V425.90 M393.62 424.3V425.90 M395.53 424.3V425.90 M397.45 424.3V426.80 M399.37 424.3V425.90 M401.28 424.3V425.90 M403.20 424.3V425.90 M405.12 424.3V425.90 M407.03 424.3V426.80 M408.95 424.3V425.90 M410.87 424.3V425.90 M412.79 424.3V425.90 M414.70 424.3V425.90 M416.62 424.3V426.80 M418.54 424.3V425.90 M420.45 424.3V425.90 M422.37 424.3V425.90 M424.29 424.3V425.90 M426.20 424.3V426.80 M428.12 424.3V425.90 M430.04 424.3V425.90 M431.96 424.3V425.90 M433.87 424.3V425.90 M435.79 424.3V426.80 M437.71 424.3V425.90 M439.62 424.3V425.90 M441.54 424.3V425.90 M443.46 424.3V425.90 M445.37 424.3V426.80 M447.29 424.3V425.90 M449.21 424.3V425.90 M451.13 424.3V425.90 M453.04 424.3V425.90 M454.96 424.3V426.80 M456.88 424.3V425.90 M458.79 424.3V425.90 M460.71 424.3V425.90 M462.63 424.3V425.90 M464.54 424.3V426.80 M466.46 424.3V425.90 M468.38 424.3V425.90 M470.30 424.3V425.90 M472.21 424.3V425.90 M474.13 424.3V426.80 M476.05 424.3V425.90 M477.96 424.3V425.90 M479.88 424.3V425.90 M481.80 424.3V425.90 M483.71 424.3V426.80 M485.63 424.3V425.90 M487.55 424.3V425.90 M489.47 424.3V425.90 M491.38 424.3V425.90 M493.30 424.3V426.80 M495.22 424.3V425.90 M497.13 424.3V425.90 M499.05 424.3V425.90 M500.97 424.3V425.90 M502.88 424.3V426.80 M504.80 424.3V425.90 M506.72 424.3V425.90 M508.64 424.3V425.90 M510.55 424.3V425.90 M512.47 424.3V426.80 M514.39 424.3V425.90 M516.30 424.3V425.90 M518.22 424.3V425.90 M520.14 424.3V425.90 M522.05 424.3V426.80 M523.97 424.3V425.90 M525.89 424.3V425.90 M527.81 424.3V425.90 M529.72 424.3V425.90 M531.64 424.3V426.80 M533.56 424.3V425.90 M535.47 424.3V425.90 M537.39 424.3V425.90 M539.31 424.3V425.90 M541.22 424.3V426.80 M543.14 424.3V425.90 M545.06 424.3V425.90" stroke="#5a5a5a" stroke-width="0.75" fill="none"/>
<text class="tk" text-anchor="end" transform="translate(297.70 239.50) scale(0.77 1)">-0.6</text>
<text class="tk" text-anchor="end" transform="translate(297.70 276.80) scale(0.77 1)">-1.0</text>
<text class="tk" text-anchor="end" transform="translate(297.70 314.10) scale(0.77 1)">-1.4</text>
<text class="tk" text-anchor="end" transform="translate(297.70 351.40) scale(0.77 1)">-1.8</text>
<text class="tk" text-anchor="end" transform="translate(297.70 388.70) scale(0.77 1)">-2.2</text>
<text class="tk" text-anchor="end" transform="translate(297.70 426.00) scale(0.77 1)">-2.6</text>
<text class="tk" text-anchor="middle" transform="translate(301.60 431.60) scale(0.77 1)">10</text>
<text class="tk" text-anchor="middle" transform="translate(320.77 431.60) scale(0.77 1)">12</text>
<text class="tk" text-anchor="middle" transform="translate(339.94 431.60) scale(0.77 1)">14</text>
<text class="tk" text-anchor="middle" transform="translate(359.11 431.60) scale(0.77 1)">16</text>
<text class="tk" text-anchor="middle" transform="translate(378.28 431.60) scale(0.77 1)">18</text>
<text class="tk" text-anchor="middle" transform="translate(397.45 431.60) scale(0.77 1)">20</text>
<text class="tk" text-anchor="middle" transform="translate(416.62 431.60) scale(0.77 1)">22</text>
<text class="tk" text-anchor="middle" transform="translate(435.79 431.60) scale(0.77 1)">24</text>
<text class="tk" text-anchor="middle" transform="translate(454.96 431.60) scale(0.77 1)">26</text>
<text class="tk" text-anchor="middle" transform="translate(474.13 431.60) scale(0.77 1)">28</text>
<text class="tk" text-anchor="middle" transform="translate(493.30 431.60) scale(0.77 1)">30</text>
<text class="tk" text-anchor="middle" transform="translate(512.47 431.60) scale(0.77 1)">32</text>
<text class="tk" text-anchor="middle" transform="translate(531.64 431.60) scale(0.77 1)">34</text>
<text x="416.4" y="440.2" class="tt" text-anchor="middle">Migration time (min)</text>
<text x="0" y="0" class="tt" style="font-size:7.85px" text-anchor="middle" transform="translate(285.5 327.2) rotate(-90)">Absorbance (mAU)</text>
<text x="317.0" y="251.8" class="pl">(D)</text>
<path d="M300.60 418.99 L300.85 418.88 L301.10 417.37 L301.35 416.83 L301.60 417.47 L301.85 417.10 L302.20 415.80 L302.60 416.91 L302.85 417.07 L303.10 418.28 L303.35 419.78 L303.60 418.05 L303.85 419.69 L304.10 419.41 L304.35 419.45 L304.60 419.70 L304.85 418.91 L305.10 419.22 L305.35 420.47 L305.60 419.05 L305.85 419.03 L306.10 418.39 L306.35 419.00 L306.60 419.78 L306.85 420.11 L307.10 419.72 L307.35 419.71 L307.60 419.68 L307.85 419.52 L308.10 419.95 L308.35 419.21 L308.60 420.00 L308.85 419.26 L309.10 418.27 L309.35 418.47 L309.60 419.18 L309.85 419.01 L310.10 418.52 L310.35 418.81 L310.60 419.42 L310.85 419.56 L311.10 419.85 L311.35 418.75 L311.60 419.55 L311.85 419.97 L312.10 419.53 L312.35 420.44 L312.60 419.00 L312.85 419.30 L313.10 419.42 L313.35 419.04 L313.60 419.27 L313.85 419.45 L314.10 419.26 L314.35 418.86 L314.60 418.49 L314.85 417.74 L315.10 415.38 L315.40 415.40 L315.60 415.98 L315.85 416.53 L316.10 418.32 L316.35 418.46 L316.60 419.46 L316.85 419.26 L317.10 419.40 L317.35 419.15 L317.60 419.73 L317.85 420.48 L318.10 417.07 L318.35 415.72 L318.60 413.60 L318.85 415.66 L319.10 418.22 L319.35 419.01 L319.60 421.14 L319.85 420.32 L320.10 420.82 L320.35 419.82 L320.60 418.79 L320.85 417.53 L321.20 413.60 L321.60 417.90 L321.85 419.24 L322.10 419.25 L322.35 417.64 L322.60 415.40 L322.85 416.72 L323.10 418.88 L323.35 419.95 L323.60 420.66 L323.85 420.56 L324.10 420.09 L324.35 420.67 L324.60 419.21 L324.85 417.69 L325.30 415.60 L325.60 418.27 L325.85 418.04 L326.10 419.60 L326.35 419.87 L326.60 419.68 L326.85 419.79 L327.10 420.13 L327.35 420.08 L327.60 419.40 L327.85 419.82 L328.10 420.73 L328.35 420.36 L328.60 419.66 L328.85 420.02 L329.10 419.48 L329.35 419.54 L329.60 420.27 L329.85 421.87 L330.10 420.71 L330.35 420.10 L330.60 421.54 L330.85 421.42 L331.10 422.58 L331.35 423.14 L331.60 422.40 L331.85 422.93 L332.10 422.34 L332.35 423.42 L332.60 421.95 L332.85 422.18 L333.10 423.41 L333.35 421.07 L333.60 421.51 L333.85 421.13 L334.10 421.20 L334.35 420.95 L334.60 421.35 L334.85 420.47 L335.10 420.29 L335.35 418.88 L335.60 419.66 L335.85 418.47 L336.10 420.10 L336.35 419.31 L336.60 419.97 L336.85 419.05 L337.10 419.52 L337.35 419.44 L337.60 419.75 L337.85 419.35 L338.10 419.06 L338.35 419.20 L338.60 419.04 L338.85 418.88 L339.10 418.71 L339.35 418.56 L339.60 420.69 L339.85 419.04 L340.10 418.82 L340.35 420.16 L340.60 419.73 L340.85 419.48 L341.10 420.29 L341.35 420.76 L341.60 419.06 L341.85 420.51 L342.10 419.98 L342.35 420.37 L342.60 419.31 L342.85 420.72 L343.10 420.41 L343.35 418.04 L343.60 420.50 L343.85 420.56 L344.10 418.84 L344.35 419.94 L344.60 419.63 L344.85 419.90 L345.10 419.22 L345.35 420.19 L345.60 420.26 L345.85 419.74 L346.10 419.77 L346.35 418.74 L346.60 420.19 L346.85 419.05 L347.10 419.88 L347.35 419.37 L347.60 421.54 L347.85 419.90 L348.10 420.89 L348.35 419.91 L348.60 419.92 L348.85 420.43 L349.10 419.96 L349.35 421.47 L349.60 419.89 L349.85 421.05 L350.10 419.28 L350.35 419.48 L350.60 420.48 L350.85 419.21 L351.10 421.34 L351.35 420.44 L351.60 420.15 L351.85 421.15 L352.10 419.48 L352.35 418.86 L352.60 416.84 L352.85 416.06 L353.10 415.84 L353.50 415.00 L353.85 414.53 L354.10 417.58 L354.35 419.00 L354.60 419.62 L354.85 418.87 L355.10 419.64 L355.35 419.43 L355.60 420.80 L355.85 421.03 L356.10 420.25 L356.35 420.45 L356.60 420.57 L356.85 420.91 L357.10 419.88 L357.35 419.86 L357.60 420.99 L357.85 420.83 L358.10 420.82 L358.35 420.54 L358.60 420.99 L358.85 420.80 L359.10 420.11 L359.35 421.59 L359.60 421.19 L359.85 420.34 L360.10 420.42 L360.35 419.99 L360.60 419.44 L360.85 419.31 L361.10 418.21 L361.35 417.00 L361.60 414.86 L361.85 411.13 L362.10 407.06 L362.40 406.30 L362.60 406.95 L362.85 409.37 L363.10 412.59 L363.35 417.13 L363.60 417.88 L363.85 420.27 L364.10 419.12 L364.35 420.56 L364.60 419.99 L364.85 421.06 L365.10 420.71 L365.35 419.94 L365.60 420.85 L365.85 421.26 L366.10 421.29 L366.35 421.38 L366.60 420.21 L366.85 421.82 L367.10 420.06 L367.35 420.34 L367.60 419.44 L367.85 420.29 L368.10 419.50 L368.35 420.49 L368.60 419.29 L368.85 421.62 L369.10 420.94 L369.35 421.44 L369.60 421.17 L369.85 420.52 L370.10 420.72 L370.35 420.56 L370.60 419.24 L370.85 419.70 L371.10 420.22 L371.35 421.09 L371.60 419.61 L371.85 420.63 L372.10 420.16 L372.35 421.01 L372.60 421.04 L372.85 419.89 L373.10 419.85 L373.35 421.54 L373.60 421.28 L373.85 420.60 L374.10 421.17 L374.35 420.68 L374.60 420.97 L374.85 420.42 L375.10 421.04 L375.35 421.78 L375.60 421.65 L375.85 421.54 L376.10 420.82 L376.35 421.38 L376.60 420.49 L376.85 420.59 L377.10 420.89 L377.35 420.10 L377.60 420.95 L377.85 419.72 L378.10 421.90 L378.35 421.41 L378.60 421.07 L378.85 420.44 L379.10 420.51 L379.35 420.66 L379.60 419.86 L379.85 420.67 L380.10 420.36 L380.35 421.51 L380.60 421.84 L380.85 421.93 L381.10 420.13 L381.35 420.13 L381.60 421.96 L381.85 421.55 L382.10 421.74 L382.35 421.50 L382.60 421.24 L382.85 422.47 L383.10 421.68 L383.35 421.57 L383.60 420.49 L383.85 421.26 L384.10 422.04 L384.35 421.55 L384.60 421.78 L384.85 421.08 L385.10 421.64 L385.35 420.74 L385.60 420.91 L385.85 421.65 L386.10 421.97 L386.35 420.59 L386.60 420.58 L386.85 420.49 L387.10 420.44 L387.35 420.51 L387.60 420.98 L387.85 420.56 L388.10 420.26 L388.35 420.47 L388.60 418.96 L388.85 419.93 L389.10 421.23 L389.35 419.21 L389.60 419.42 L389.85 419.89 L390.10 420.29 L390.35 419.40 L390.60 418.80 L390.85 420.41 L391.10 417.82 L391.35 418.67 L391.60 418.69 L391.85 417.59 L392.10 419.90 L392.35 420.21 L392.60 417.89 L392.85 418.52 L393.10 418.55 L393.35 419.09 L393.60 418.43 L393.85 418.85 L394.10 418.71 L394.35 418.24 L394.60 418.26 L394.85 419.04 L395.10 418.14 L395.35 418.34 L395.60 417.80 L395.85 418.18 L396.10 418.67 L396.35 417.57 L396.60 417.09 L396.85 416.82 L397.10 417.86 L397.35 416.60 L397.60 417.30 L397.85 418.54 L398.10 416.93 L398.35 417.85 L398.60 416.60 L398.85 416.43 L399.10 416.76 L399.35 415.71 L399.60 414.59 L399.85 416.04 L400.10 415.56 L400.35 416.22 L400.60 417.42 L400.85 416.58 L401.10 415.17 L401.35 416.34 L401.60 414.58 L401.85 413.67 L402.10 415.37 L402.35 411.82 L402.60 409.19 L402.85 408.99 L403.20 408.10 L403.60 409.38 L403.85 411.59 L404.10 413.07 L404.35 414.64 L404.60 416.46 L404.85 416.48 L405.10 416.48 L405.35 417.40 L405.60 416.91 L405.85 418.07 L406.10 417.44 L406.35 417.36 L406.60 417.22 L406.85 417.87 L407.10 418.11 L407.35 417.23 L407.60 415.94 L407.85 417.87 L408.10 416.84 L408.35 417.71 L408.60 416.88 L408.85 417.52 L409.10 417.06 L409.35 416.67 L409.60 416.31 L409.85 417.08 L410.10 417.21 L410.35 416.01 L410.60 415.47 L410.85 417.20 L411.10 418.43 L411.35 416.45 L411.60 416.77 L411.85 416.21 L412.10 416.06 L412.35 417.84 L412.60 415.76 L412.85 416.97 L413.10 416.30 L413.35 417.14 L413.60 417.76 L413.85 416.80 L414.10 416.47 L414.35 417.36 L414.60 416.41 L414.85 415.36 L415.10 417.45 L415.35 416.19 L415.60 416.65 L415.85 417.95 L416.10 417.06 L416.35 416.63 L416.60 417.50 L416.85 415.78 L417.10 415.24 L417.35 415.56 L417.60 416.35 L417.85 416.40 L418.10 415.78 L418.35 417.62 L418.60 416.71 L418.85 416.27 L419.10 415.66 L419.35 416.05 L419.60 416.26 L419.85 415.79 L420.10 417.88 L420.35 416.99 L420.60 416.18 L420.85 415.64 L421.10 414.36 L421.35 416.10 L421.60 414.82 L421.85 415.86 L422.10 415.32 L422.35 414.05 L422.60 414.84 L422.85 414.57 L423.10 414.40 L423.35 414.33 L423.60 414.26 L423.85 413.81 L424.10 414.13 L424.35 413.32 L424.60 411.89 L424.85 410.61 L425.10 409.14 L425.50 408.10 L425.85 408.39 L426.10 409.53 L426.35 410.78 L426.60 411.14 L426.85 410.46 L427.10 411.83 L427.35 411.12 L427.60 411.56 L427.85 413.06 L428.10 411.94 L428.35 409.55 L428.60 409.82 L428.85 411.51 L429.10 410.19 L429.35 409.53 L429.60 409.29 L429.85 410.20 L430.10 409.72 L430.35 410.35 L430.60 410.27 L430.85 410.59 L431.10 410.40 L431.35 410.26 L431.60 411.37 L431.85 412.04 L432.10 410.54 L432.35 411.12 L432.60 412.67 L432.85 410.71 L433.10 410.80 L433.35 412.01 L433.60 412.35 L433.85 411.85 L434.10 412.73 L434.35 412.00 L434.60 412.33 L434.85 412.27 L435.10 412.62 L435.35 412.52 L435.60 413.57 L435.85 413.20 L436.10 413.91 L436.35 412.84 L436.60 412.53 L436.85 412.75 L437.10 412.90 L437.35 413.27 L437.60 412.66 L437.85 413.01 L438.10 412.99 L438.35 411.82 L438.60 411.55 L438.85 413.23 L439.10 411.82 L439.35 413.37 L439.60 411.81 L439.85 410.99 L440.10 411.00 L440.35 411.13 L440.60 413.28 L440.85 410.19 L441.10 409.76 L441.35 410.59 L441.60 411.12 L441.85 412.44 L442.10 411.53 L442.35 410.11 L442.60 411.66 L442.85 411.36 L443.10 409.96 L443.35 410.67 L443.60 410.41 L443.85 409.95 L444.10 409.63 L444.35 409.43 L444.60 409.99 L444.85 409.24 L445.10 410.04 L445.35 409.80 L445.60 408.17 L445.85 409.39 L446.10 408.88 L446.35 409.40 L446.60 408.53 L446.85 409.43 L447.10 409.08 L447.35 409.02 L447.60 408.71 L447.85 407.27 L448.10 407.26 L448.35 406.01 L448.60 403.85 L448.85 401.62 L449.10 400.03 L449.35 400.09 L449.60 399.32 L449.85 399.11 L450.10 400.26 L450.35 401.01 L450.60 400.37 L450.85 400.27 L451.10 400.59 L451.35 401.68 L451.60 400.48 L451.85 400.91 L452.10 400.95 L452.35 400.70 L452.60 399.55 L452.85 398.21 L453.10 397.75 L453.35 397.26 L453.60 397.78 L453.85 398.44 L454.10 397.70 L454.35 396.85 L454.60 395.44 L454.85 393.87 L455.10 390.49 L455.35 382.95 L455.60 370.63 L455.85 352.86 L456.10 329.34 L456.35 301.09 L456.60 273.91 L456.85 250.08 L457.20 238.30 L457.60 244.07 L457.85 251.94 L458.10 264.11 L458.35 277.51 L458.60 293.44 L458.85 308.78 L459.10 324.87 L459.35 338.47 L459.60 352.43 L459.85 362.24 L460.10 371.31 L460.35 377.71 L460.60 383.30 L460.85 386.80 L461.10 389.46 L461.35 392.23 L461.60 392.71 L461.85 393.20 L462.10 394.30 L462.35 396.59 L462.60 396.24 L462.85 396.06 L463.10 396.39 L463.35 396.67 L463.60 397.01 L463.85 398.48 L464.10 398.65 L464.35 399.08 L464.60 399.16 L464.85 400.98 L465.10 403.07 L465.35 403.92 L465.60 405.82 L465.85 406.65 L466.10 408.47 L466.35 409.77 L466.60 410.48 L466.85 411.26 L467.10 413.21 L467.35 414.27 L467.60 415.43 L467.85 417.40 L468.10 418.74 L468.35 417.29 L468.60 416.82 L468.85 415.90 L469.10 416.28 L469.35 415.64 L469.60 414.82 L469.85 414.61 L470.10 412.28 L470.35 410.80 L470.60 407.54 L470.85 405.52 L471.10 402.47 L471.50 401.00 L471.85 402.61 L472.10 404.77 L472.35 405.31 L472.60 407.39 L472.85 409.76 L473.10 410.77 L473.35 412.06 L473.60 410.15 L473.85 411.65 L474.10 412.32 L474.35 411.97 L474.60 410.83 L474.85 411.67 L475.10 410.93 L475.35 410.56 L475.80 410.30 L476.10 410.37 L476.35 410.77 L476.60 411.66 L476.85 410.82 L477.10 409.92 L477.35 412.90 L477.60 411.16 L477.85 413.07 L478.10 413.09 L478.35 413.38 L478.60 412.48 L478.85 413.59 L479.10 412.99 L479.35 412.78 L479.60 412.76 L479.85 412.10 L480.10 413.35 L480.35 411.43 L480.60 411.39 L480.85 410.78 L481.30 410.70 L481.60 411.06 L481.85 411.34 L482.10 411.62 L482.35 412.37 L482.60 412.94 L482.85 413.38 L483.10 414.24 L483.35 413.70 L483.60 413.85 L483.85 414.34 L484.10 413.98 L484.35 414.40 L484.60 414.56 L484.85 412.76 L485.10 414.29 L485.35 413.94 L485.60 413.15 L485.85 413.29 L486.10 413.08 L486.35 414.49 L486.60 414.33 L486.85 413.29 L487.10 412.83 L487.35 411.78 L487.60 413.50 L487.85 412.86 L488.20 411.70 L488.60 412.13 L488.85 411.76 L489.10 412.60 L489.35 412.68 L489.60 412.71 L489.85 413.12 L490.10 413.50 L490.35 413.85 L490.60 414.68 L490.85 413.84 L491.10 414.79 L491.35 414.58 L491.60 414.98 L491.85 415.07 L492.10 415.49 L492.35 414.34 L492.60 413.19 L492.85 413.07 L493.30 413.00 L493.60 414.95 L493.85 412.62 L494.10 413.64 L494.35 414.66 L494.60 414.13 L494.85 414.65 L495.10 415.66 L495.35 415.18 L495.60 414.70 L495.85 415.10 L496.10 414.93 L496.35 415.19 L496.60 415.15 L496.85 414.59 L497.10 414.82 L497.35 414.89 L497.60 414.52 L497.85 414.16 L498.10 414.89 L498.35 412.55 L498.60 413.48 L498.85 413.93 L499.10 413.08 L499.35 411.81 L499.80 412.30 L500.10 411.86 L500.35 414.05 L500.60 413.60 L500.85 413.55 L501.10 414.07 L501.35 414.20 L501.60 414.92 L501.85 414.35 L502.10 415.19 L502.35 415.14 L502.60 415.39 L502.85 415.91 L503.10 414.19 L503.35 415.31 L503.60 415.51 L503.85 415.55 L504.10 415.41 L504.35 415.68 L504.60 416.12 L504.85 415.11 L505.10 415.53 L505.35 415.90 L505.60 415.28 L505.85 416.04 L506.10 414.93 L506.35 416.13 L506.60 415.52 L506.85 416.26 L507.10 416.22 L507.35 414.72 L507.60 415.92 L507.85 415.62 L508.10 415.36 L508.35 415.02 L508.60 415.52 L508.85 415.11 L509.10 415.28 L509.35 415.26 L509.60 415.29 L509.85 415.07 L510.10 414.33 L510.35 415.33 L510.60 413.07 L510.85 415.36 L511.10 415.09 L511.35 415.10 L511.60 414.82 L511.85 415.35 L512.10 415.47 L512.35 414.80 L512.60 414.72 L512.85 414.48 L513.10 414.32 L513.35 415.37 L513.60 415.02 L513.85 415.98 L514.10 414.07 L514.35 414.33 L514.60 415.13 L514.85 414.74 L515.10 415.23 L515.35 414.44 L515.60 415.77 L515.85 414.76 L516.10 415.14 L516.35 415.59 L516.60 414.08 L516.85 414.58 L517.10 414.12 L517.35 415.31 L517.60 413.59 L517.85 414.39 L518.10 414.26 L518.35 415.23 L518.60 415.68 L518.85 414.65 L519.10 415.79 L519.35 414.99 L519.60 413.65 L519.85 414.37 L520.10 413.81 L520.35 414.95 L520.60 414.69 L520.85 414.58 L521.10 413.79 L521.35 414.18 L521.60 413.52 L521.85 414.23 L522.10 415.15 L522.35 414.07 L522.60 415.12 L522.85 414.25 L523.10 413.94 L523.35 414.46 L523.60 413.15 L523.85 415.07 L524.10 414.19 L524.35 413.28 L524.60 414.45 L524.85 413.32 L525.10 414.50 L525.35 414.71 L525.60 414.53 L525.85 413.14 L526.10 413.68 L526.35 414.58 L526.60 414.20 L526.85 414.22 L527.10 415.40 L527.35 414.53 L527.60 413.71 L527.85 413.11 L528.10 413.43 L528.35 412.92 L528.60 413.34 L528.85 413.91 L529.10 413.01 L529.35 413.85 L529.60 413.47 L529.85 414.12 L530.10 412.98 L530.35 413.32 L530.60 413.83 L530.85 414.12 L531.10 413.84 L531.35 411.88 L531.60 413.61 L531.85 412.54 L532.10 413.60 L532.35 413.01 L532.60 412.92 L532.85 413.06 L533.10 413.56 L533.35 413.03 L533.60 413.26 L534.00 412.80 L534.35 412.87 L534.60 412.72 L534.85 413.97 L535.10 414.59 L535.35 413.01 L535.60 413.65 L535.85 412.72 L536.10 413.70 L536.35 413.16 L536.60 414.56 L536.85 413.97 L537.10 413.88 L537.35 414.44 L537.60 413.95 L537.85 411.96 L538.10 414.77 L538.35 414.82 L538.60 413.85 L538.85 414.55 L539.10 414.08 L539.35 412.85 L539.60 412.78 L539.85 414.73 L540.10 414.37 L540.35 414.86 L540.60 415.05 L540.85 413.70 L541.10 414.29 L541.35 414.24 L541.60 414.31 L541.85 414.17 L542.10 413.52 L542.35 414.06 L542.60 412.64 L542.85 414.14 L543.10 413.56 L543.35 413.38 L543.60 414.09 L543.85 414.08 L544.10 414.06 L544.35 413.41 L544.60 413.48 L544.85 413.73 L545.10 413.80 L545.35 413.63 L545.60 413.20 L545.85 414.02" fill="none" stroke="#1a1a1a" stroke-width="0.75" stroke-linejoin="round"/>
<text class="pk" text-anchor="middle" transform="translate(309.9 396.9) scale(0.93 1)">1</text>
<text class="pk" text-anchor="middle" transform="translate(328.1 392.6) scale(0.93 1)">2</text>
<text class="pk" text-anchor="middle" transform="translate(353.4 411.4) scale(0.93 1)">4</text>
<text class="pk" text-anchor="middle" transform="translate(362.4 402.8) scale(0.93 1)">5</text>
<text class="pk" text-anchor="middle" transform="translate(404.2 404.2) scale(0.93 1)">7</text>
<text class="pk" text-anchor="middle" transform="translate(413.8 397.1) scale(0.93 1)">8</text>
<text class="pk" text-anchor="middle" transform="translate(425.6 405.7) scale(0.93 1)">9</text>
<text class="pk" text-anchor="middle" transform="translate(464.8 246.5) scale(0.93 1)">10</text>
<path d="M310.5 399 L313.79 408.86" stroke="#111" stroke-width="0.8"/>
<path d="M314.8 411.9 L312.37 409.34 L315.21 408.39Z" fill="#111"/>
<path d="M326.9 394.6 L323.05 408.52" stroke="#111" stroke-width="0.8"/>
<path d="M322.2 411.6 L321.61 408.12 L324.50 408.92Z" fill="#111"/>
<path d="M413.4 399 L411.86 409.53" stroke="#111" stroke-width="0.8"/>
<path d="M411.4 412.7 L410.38 409.32 L413.35 409.75Z" fill="#111"/>
</svg></body></html>
